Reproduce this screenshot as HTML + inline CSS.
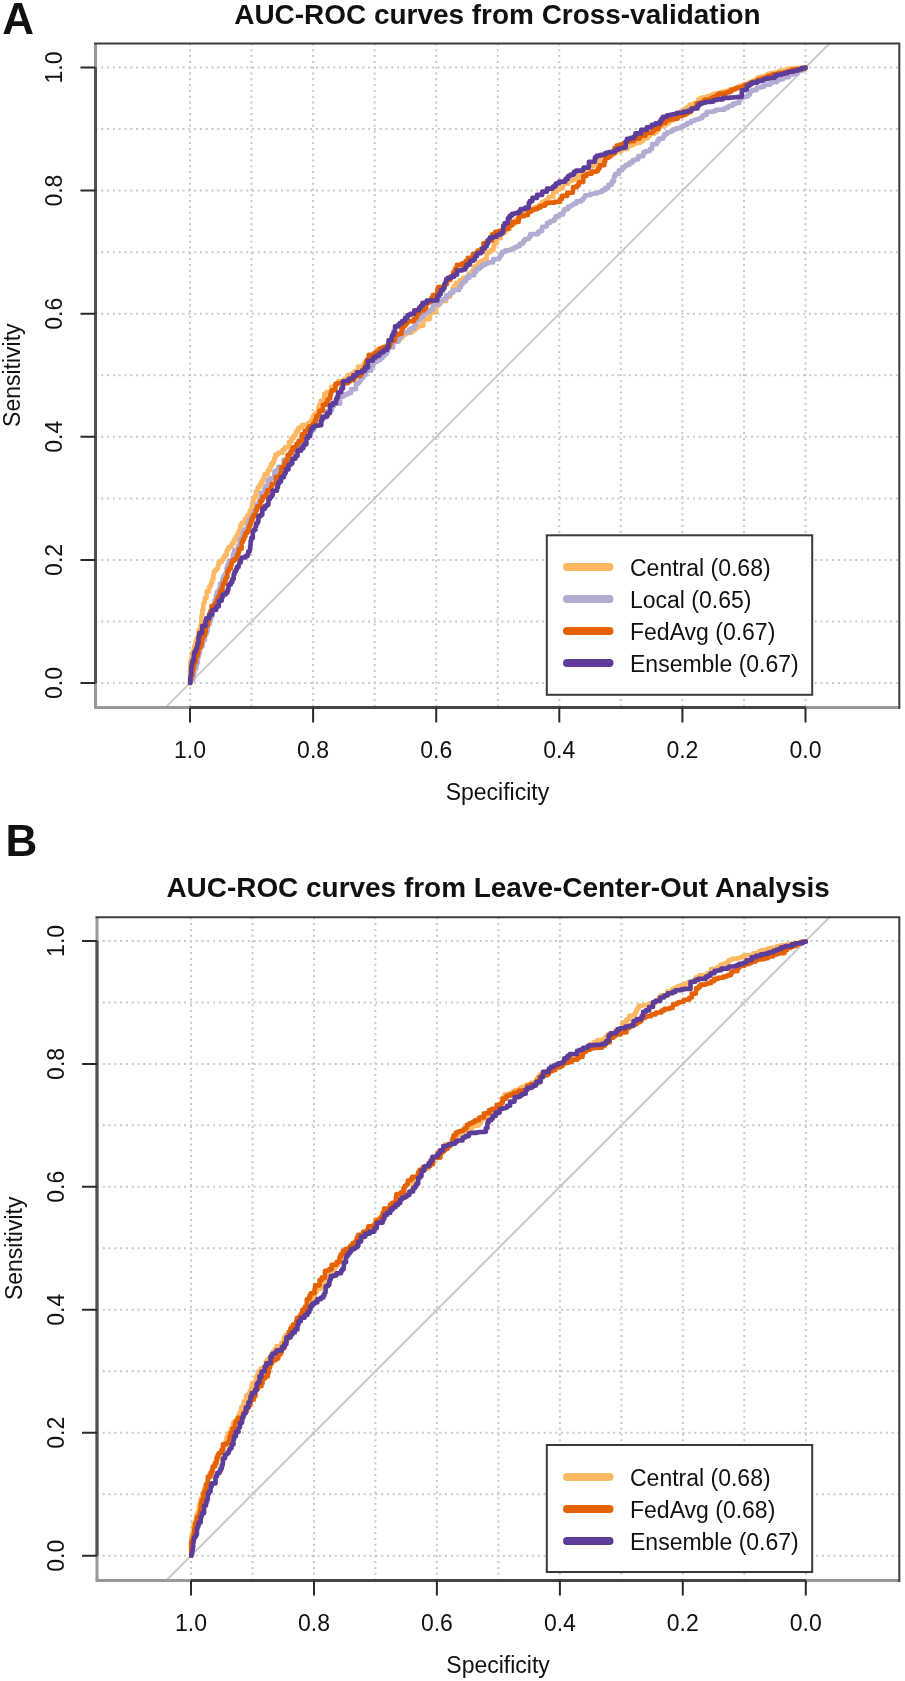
<!DOCTYPE html>
<html><head><meta charset="utf-8"><style>
html,body{margin:0;padding:0;background:#fff;width:905px;height:1681px;overflow:hidden}
svg{display:block;will-change:transform}
text{font-family:"Liberation Sans", sans-serif;fill:#111}
</style></head><body>
<svg width="905" height="1681" viewBox="0 0 905 1681">
<rect width="905" height="1681" fill="#fff"/>
<clipPath id="clipA"><rect x="95.5" y="43.5" width="803.8" height="663.9"/></clipPath>
<path d="M805.5 43.5V707.4M95.5 683.0H899.3M744.0 43.5V707.4M95.5 621.5H899.3M682.4 43.5V707.4M95.5 559.9H899.3M620.8 43.5V707.4M95.5 498.4H899.3M559.3 43.5V707.4M95.5 436.8H899.3M497.8 43.5V707.4M95.5 375.2H899.3M436.2 43.5V707.4M95.5 313.7H899.3M374.7 43.5V707.4M95.5 252.2H899.3M313.1 43.5V707.4M95.5 190.6H899.3M251.5 43.5V707.4M95.5 129.0H899.3M190.0 43.5V707.4M95.5 67.5H899.3" stroke="#c9c9c9" stroke-width="2" stroke-dasharray="2 3.8" fill="none"/>
<line x1="165.6" y1="707.4" x2="829.5" y2="43.5" stroke="#c8c8c8" stroke-width="1.9"/>
<path d="M190.0 683.0 L190.0 681.6 L190.0 681.6 L190.1 681.6 L190.1 677.9 L190.1 677.9 L190.1 674.1 L190.1 671.8 L190.2 671.8 L190.2 668.8 L190.2 668.8 L190.3 668.8 L190.3 665.7 L190.3 665.7 L190.3 663.0 L190.3 661.1 L190.8 661.1 L191.6 661.1 L191.6 657.6 L192.1 657.6 L192.1 655.7 L192.1 653.2 L192.7 653.2 L192.7 651.9 L193.1 651.9 L193.6 651.9 L193.6 649.8 L193.6 649.7 L193.6 649.7 L194.1 649.7 L194.1 648.0 L194.1 646.5 L194.6 646.5 L195.2 646.5 L195.2 644.5 L195.6 644.5 L195.6 643.0 L195.6 641.0 L196.2 641.0 L196.9 641.0 L196.9 638.6 L197.6 638.6 L197.6 636.4 L198.6 636.4 L198.6 632.5 L198.6 630.3 L199.2 630.3 L200.2 630.3 L200.2 626.4 L200.6 626.4 L200.6 624.8 L201.0 624.8 L201.0 623.2 L201.3 623.2 L201.3 620.7 L201.5 620.7 L201.5 618.7 L201.5 615.5 L201.9 615.5 L202.3 615.5 L202.3 612.2 L202.3 609.9 L202.6 609.9 L203.3 609.9 L203.3 606.3 L203.3 604.1 L203.8 604.1 L203.8 602.7 L204.1 602.7 L204.7 602.7 L204.7 599.5 L205.0 599.5 L205.0 598.0 L206.6 598.0 L206.6 594.6 L206.6 591.4 L208.0 591.4 L209.0 591.4 L209.0 589.3 L209.0 587.0 L209.8 587.0 L210.3 587.0 L210.3 585.3 L211.2 585.3 L211.2 582.5 L212.2 582.5 L212.2 579.5 L213.4 579.5 L213.4 575.9 L213.4 574.4 L213.9 574.4 L213.9 571.5 L215.4 571.5 L215.4 569.5 L216.4 569.5 L217.1 569.5 L217.1 568.2 L218.0 568.2 L218.0 566.6 L218.0 565.3 L218.7 565.3 L218.7 562.0 L220.5 562.0 L221.9 562.0 L221.9 559.5 L223.5 559.5 L223.5 557.1 L224.7 557.1 L224.7 555.3 L226.7 555.3 L226.7 552.3 L226.7 550.8 L227.7 550.8 L227.7 549.3 L228.6 549.3 L228.6 547.0 L230.2 547.0 L231.8 547.0 L231.8 544.6 L231.8 544.6 L231.8 544.6 L231.8 543.3 L232.4 543.3 L233.9 543.3 L233.9 540.3 L233.9 539.6 L234.3 539.6 L235.7 539.6 L235.7 536.8 L237.4 536.8 L237.4 533.4 L238.8 533.4 L238.8 530.5 L240.3 530.5 L240.3 527.5 L240.3 525.2 L241.5 525.2 L241.7 525.2 L241.7 524.7 L241.7 522.9 L242.9 522.9 L244.9 522.9 L244.9 520.2 L244.9 518.7 L246.0 518.7 L247.1 518.7 L247.1 517.0 L247.1 515.6 L248.1 515.6 L248.1 514.8 L248.7 514.8 L249.7 514.8 L249.7 512.1 L249.7 510.6 L250.2 510.6 L251.6 510.6 L251.6 506.9 L252.2 506.9 L252.2 505.3 L252.2 503.5 L252.9 503.5 L252.9 499.9 L254.2 499.9 L254.2 496.8 L255.2 496.8 L256.1 496.8 L256.1 494.3 L256.1 491.4 L257.0 491.4 L257.8 491.4 L257.8 489.1 L257.8 487.3 L258.4 487.3 L258.4 487.0 L258.5 487.0 L260.0 487.0 L260.0 484.3 L261.6 484.3 L261.6 481.4 L263.2 481.4 L263.2 478.5 L263.3 478.5 L263.3 478.3 L264.4 478.3 L264.4 476.4 L264.4 474.4 L265.5 474.4 L267.7 474.4 L267.7 470.6 L269.7 470.6 L269.7 467.0 L271.1 467.0 L271.1 464.6 L271.1 463.9 L271.5 463.9 L272.9 463.9 L272.9 461.9 L274.2 461.9 L274.2 460.1 L274.2 458.4 L275.4 458.4 L275.4 454.5 L278.2 454.5 L278.2 452.9 L279.3 452.9 L282.4 452.9 L282.4 450.0 L284.8 450.0 L284.8 447.9 L284.8 447.3 L285.4 447.3 L289.0 447.3 L289.0 444.0 L289.0 441.8 L291.4 441.8 L291.4 438.3 L293.6 438.3 L293.6 435.7 L295.2 435.7 L295.2 434.5 L296.0 434.5 L296.0 431.4 L297.9 431.4 L297.9 428.6 L299.7 428.6 L299.7 428.6 L299.7 428.6 L299.7 427.2 L302.0 427.2 L302.0 425.0 L305.4 425.0 L307.9 425.0 L307.9 423.4 L308.6 423.4 L308.6 423.0 L310.7 423.0 L310.7 420.6 L312.7 420.6 L312.7 418.3 L312.7 416.6 L314.2 416.6 L314.2 414.2 L316.3 414.2 L316.3 412.9 L316.8 412.9 L317.5 412.9 L317.5 411.2 L318.4 411.2 L318.4 409.2 L318.4 407.5 L319.1 407.5 L319.1 405.2 L320.0 405.2 L320.6 405.2 L320.6 403.7 L320.6 400.9 L321.8 400.9 L324.3 400.9 L324.3 396.9 L324.3 393.7 L326.3 393.7 L326.3 392.2 L327.3 392.2 L327.3 392.1 L327.3 392.1 L331.2 392.1 L331.2 388.8 L331.2 386.8 L333.4 386.8 L335.5 386.8 L335.5 385.0 L336.2 385.0 L336.2 384.4 L336.2 383.0 L338.2 383.0 L338.2 381.0 L341.0 381.0 L344.2 381.0 L344.2 378.7 L347.2 378.7 L347.2 376.6 L347.2 375.3 L349.0 375.3 L351.6 375.3 L351.6 373.5 L354.7 373.5 L354.7 371.2 L358.1 371.2 L358.1 368.8 L358.1 366.6 L361.2 366.6 L364.2 366.6 L364.2 364.4 L364.2 362.8 L366.5 362.8 L368.2 362.8 L368.2 360.9 L371.7 360.9 L371.7 357.1 L373.1 357.1 L373.1 355.5 L376.3 355.5 L376.3 352.1 L376.3 349.6 L378.5 349.6 L382.1 349.6 L382.1 347.9 L384.5 347.9 L384.5 346.8 L387.5 346.8 L387.5 345.5 L387.5 344.3 L390.1 344.3 L393.0 344.3 L393.0 342.9 L393.0 340.8 L396.0 340.8 L398.3 340.8 L398.3 339.2 L400.6 339.2 L400.6 337.5 L402.3 337.5 L402.3 336.3 L402.3 335.2 L404.5 335.2 L404.5 334.3 L406.4 334.3 L406.4 332.8 L409.3 332.8 L411.3 332.8 L411.3 331.8 L412.7 331.8 L412.7 331.2 L412.7 330.4 L414.2 330.4 L414.2 329.7 L415.6 329.7 L415.6 327.2 L418.5 327.2 L418.5 325.6 L420.5 325.6 L423.3 325.6 L423.3 323.2 L423.3 323.0 L423.6 323.0 L423.6 319.1 L427.0 319.1 L429.9 319.1 L429.9 315.7 L429.9 313.1 L432.2 313.1 L432.2 312.4 L432.8 312.4 L436.1 312.4 L436.1 308.6 L436.1 306.0 L438.3 306.0 L438.3 303.2 L440.8 303.2 L440.8 301.0 L443.9 301.0 L446.1 301.0 L446.1 299.4 L446.1 296.7 L449.9 296.7 L450.1 296.7 L450.1 296.5 L450.1 294.8 L451.0 294.8 L451.0 293.3 L451.8 293.3 L451.8 292.1 L452.5 292.1 L452.5 288.6 L454.3 288.6 L454.3 285.5 L456.0 285.5 L456.0 282.9 L459.6 282.9 L459.6 280.3 L463.2 280.3 L463.2 277.8 L466.6 277.8 L467.9 277.8 L467.9 276.3 L467.9 275.0 L468.9 275.0 L468.9 273.6 L470.0 273.6 L472.0 273.6 L472.0 271.2 L473.7 271.2 L473.7 269.2 L473.7 266.6 L476.7 266.6 L476.7 265.2 L478.4 265.2 L478.4 262.3 L481.8 262.3 L481.8 260.6 L483.8 260.6 L484.8 260.6 L484.8 259.1 L486.7 259.1 L486.7 256.3 L486.7 252.4 L489.3 252.4 L489.3 252.0 L489.5 252.0 L490.8 252.0 L490.8 250.0 L493.5 250.0 L493.5 246.1 L494.3 246.1 L494.3 244.8 L494.3 243.3 L495.3 243.3 L496.9 243.3 L496.9 240.9 L496.9 238.2 L498.7 238.2 L500.8 238.2 L500.8 235.0 L501.0 235.0 L501.0 234.7 L501.0 232.8 L502.9 232.8 L505.2 232.8 L505.2 230.6 L505.2 229.0 L506.8 229.0 L509.7 229.0 L509.7 225.9 L511.7 225.9 L511.7 223.8 L515.3 223.8 L515.3 220.0 L517.3 220.0 L517.3 217.8 L520.0 217.8 L520.0 215.0 L520.0 215.0 L520.0 215.0 L522.6 215.0 L522.6 213.6 L526.0 213.6 L526.0 211.8 L529.1 211.8 L529.1 210.2 L529.1 208.7 L531.9 208.7 L533.3 208.7 L533.3 207.9 L535.0 207.9 L535.0 207.0 L538.8 207.0 L538.8 205.1 L541.9 205.1 L541.9 203.5 L541.9 202.0 L544.8 202.0 L544.8 200.6 L547.5 200.6 L547.5 200.2 L548.4 200.2 L548.4 196.9 L550.6 196.9 L553.2 196.9 L553.2 193.1 L553.2 191.6 L554.2 191.6 L557.1 191.6 L557.1 189.7 L558.8 189.7 L558.8 188.5 L562.8 188.5 L562.8 185.9 L562.8 185.9 L562.8 185.9 L562.8 183.6 L566.7 183.6 L568.4 183.6 L568.4 182.7 L568.4 180.5 L572.2 180.5 L572.9 180.5 L572.9 180.1 L572.9 179.4 L576.2 179.4 L576.2 179.1 L577.9 179.1 L577.9 176.1 L580.4 176.1 L580.4 172.9 L583.1 172.9 L585.1 172.9 L585.1 170.5 L585.1 169.4 L586.7 169.4 L588.7 169.4 L588.7 168.1 L588.7 166.4 L591.1 166.4 L593.7 166.4 L593.7 164.7 L595.2 164.7 L595.2 163.7 L599.2 163.7 L599.2 161.1 L599.2 159.0 L602.4 159.0 L604.0 159.0 L604.0 158.1 L606.6 158.1 L606.6 156.6 L606.6 155.2 L608.9 155.2 L612.4 155.2 L612.4 153.2 L615.6 153.2 L615.6 152.1 L615.6 151.4 L617.4 151.4 L621.2 151.4 L621.2 150.0 L621.2 148.9 L624.2 148.9 L627.3 148.9 L627.3 147.8 L627.3 147.5 L628.2 147.5 L628.2 145.6 L632.0 145.6 L632.0 144.9 L633.3 144.9 L633.3 143.6 L636.1 143.6 L636.1 142.8 L637.7 142.8 L640.5 142.8 L640.5 141.3 L642.6 141.3 L642.6 140.3 L642.6 139.0 L644.7 139.0 L644.7 138.1 L646.3 138.1 L647.9 138.1 L647.9 137.1 L647.9 136.2 L649.5 136.2 L649.8 136.2 L649.8 136.0 L649.8 133.7 L652.5 133.7 L654.3 133.7 L654.3 132.2 L656.7 132.2 L656.7 130.3 L658.4 130.3 L658.4 128.8 L658.4 126.6 L661.5 126.6 L661.5 125.4 L663.1 125.4 L665.8 125.4 L665.8 123.5 L668.4 123.5 L668.4 121.6 L670.4 121.6 L670.4 120.5 L672.8 120.5 L672.8 119.1 L675.3 119.1 L675.3 117.7 L675.3 115.9 L678.5 115.9 L678.5 114.8 L679.8 114.8 L681.4 114.8 L681.4 113.5 L681.4 110.6 L684.9 110.6 L684.9 108.7 L687.1 108.7 L687.1 107.1 L689.6 107.1 L689.6 104.5 L693.5 104.5 L693.6 104.5 L693.6 104.4 L693.6 103.4 L695.0 103.4 L698.1 103.4 L698.1 101.1 L698.1 99.5 L700.3 99.5 L700.3 98.1 L702.2 98.1 L702.2 97.2 L704.7 97.2 L707.2 97.2 L707.2 96.2 L711.0 96.2 L711.0 94.8 L713.6 94.8 L713.6 93.8 L713.6 93.8 L713.7 93.8 L717.2 93.8 L717.2 93.1 L720.7 93.1 L720.7 92.4 L722.3 92.4 L722.3 92.1 L722.3 91.6 L724.8 91.6 L724.8 91.2 L726.5 91.2 L726.5 90.9 L728.1 90.9 L728.1 90.2 L729.9 90.2 L729.9 89.3 L732.5 89.3 L736.0 89.3 L736.0 87.9 L739.3 87.9 L739.3 86.7 L739.3 86.6 L739.6 86.6 L739.6 85.8 L741.4 85.8 L742.8 85.8 L742.8 85.2 L744.1 85.2 L744.1 84.6 L747.8 84.6 L747.8 83.0 L749.7 83.0 L749.7 82.1 L751.2 82.1 L751.2 81.5 L752.5 81.5 L752.5 80.9 L754.5 80.9 L754.5 80.0 L756.1 80.0 L756.1 79.4 L757.5 79.4 L757.5 78.8 L757.5 77.5 L760.6 77.5 L760.6 76.6 L762.6 76.6 L766.4 76.6 L766.4 75.4 L766.4 75.0 L767.9 75.0 L767.9 73.8 L771.6 73.8 L771.6 72.7 L775.5 72.7 L775.5 72.2 L777.0 72.2 L778.7 72.2 L778.7 71.8 L778.7 71.4 L780.2 71.4 L780.2 70.6 L783.3 70.6 L786.5 70.6 L786.5 69.8 L786.5 69.1 L789.4 69.1 L789.4 68.6 L791.3 68.6 L791.3 68.5 L792.8 68.5 L795.8 68.5 L795.8 68.3 L795.8 68.0 L798.6 68.0 L798.6 67.8 L802.3 67.8 L804.6 67.8 L804.6 67.6 L805.5 67.6 L805.5 67.5" stroke="#fdb863" stroke-width="4.6" fill="none" stroke-linejoin="round" stroke-linecap="round" clip-path="url(#clipA)"/>
<path d="M190.0 683.0 L190.0 679.9 L191.7 679.9 L193.2 679.9 L193.2 676.9 L193.6 676.9 L193.6 676.2 L193.6 673.0 L194.4 673.0 L194.4 669.0 L195.5 669.0 L196.2 669.0 L196.2 666.0 L196.7 666.0 L196.7 664.3 L196.7 663.0 L197.0 663.0 L197.8 663.0 L197.8 659.5 L197.8 657.8 L198.2 657.8 L198.5 657.8 L198.5 656.2 L198.9 656.2 L198.9 654.6 L199.5 654.6 L199.5 652.0 L200.0 652.0 L200.0 649.7 L200.0 646.3 L201.3 646.3 L202.7 646.3 L202.7 642.6 L202.7 640.0 L203.6 640.0 L204.9 640.0 L204.9 636.8 L205.0 636.8 L205.0 636.4 L205.0 634.5 L205.7 634.5 L206.4 634.5 L206.4 632.8 L207.1 632.8 L207.1 630.9 L207.8 630.9 L207.8 628.9 L207.8 624.9 L209.3 624.9 L209.3 623.2 L210.0 623.2 L210.0 621.6 L210.4 621.6 L210.4 619.5 L210.9 619.5 L210.9 617.5 L211.4 617.5 L211.8 617.5 L211.8 615.7 L212.7 615.7 L212.7 611.9 L212.7 608.5 L213.5 608.5 L213.5 605.8 L214.2 605.8 L214.2 604.4 L214.5 604.4 L214.5 600.4 L215.4 600.4 L216.1 600.4 L216.1 597.6 L216.1 594.8 L216.8 594.8 L216.9 594.8 L216.9 594.3 L216.9 592.0 L217.8 592.0 L218.6 592.0 L218.6 590.0 L219.6 590.0 L219.6 587.7 L219.6 586.2 L220.1 586.2 L220.1 583.6 L221.2 583.6 L222.3 583.6 L222.3 580.8 L222.3 579.4 L222.9 579.4 L222.9 577.5 L223.7 577.5 L223.7 575.6 L224.4 575.6 L225.3 575.6 L225.3 573.3 L226.6 573.3 L226.6 570.0 L226.6 567.8 L227.5 567.8 L227.5 565.0 L228.6 565.0 L228.6 564.5 L228.8 564.5 L228.8 560.6 L230.9 560.6 L232.8 560.6 L232.8 557.1 L232.8 554.2 L234.3 554.2 L234.3 550.4 L236.4 550.4 L236.4 549.6 L236.8 549.6 L237.8 549.6 L237.8 547.1 L238.5 547.1 L238.5 545.4 L239.7 545.4 L239.7 542.3 L239.7 538.9 L241.0 538.9 L242.5 538.9 L242.5 535.1 L242.5 534.7 L242.7 534.7 L242.7 532.2 L244.0 532.2 L244.0 529.5 L245.3 529.5 L247.2 529.5 L247.2 525.8 L247.2 523.9 L248.2 523.9 L248.2 522.4 L248.9 522.4 L248.9 519.8 L250.2 519.8 L250.2 517.8 L251.2 517.8 L252.6 517.8 L252.6 514.6 L253.6 514.6 L253.6 512.6 L253.6 510.9 L254.4 510.9 L255.1 510.9 L255.1 509.5 L256.4 509.5 L256.4 506.7 L256.4 504.6 L257.4 504.6 L259.0 504.6 L259.0 501.2 L259.6 501.2 L259.6 499.9 L261.0 499.9 L261.0 496.6 L261.0 492.7 L262.6 492.7 L264.3 492.7 L264.3 488.9 L265.3 488.9 L265.3 486.5 L265.5 486.5 L265.5 486.0 L267.9 486.0 L267.9 483.0 L267.9 479.9 L270.2 479.9 L270.2 478.3 L271.5 478.3 L274.4 478.3 L274.4 474.6 L274.4 471.3 L277.0 471.3 L277.0 469.8 L278.3 469.8 L278.3 466.7 L280.7 466.7 L283.7 466.7 L283.7 462.9 L283.7 459.6 L286.3 459.6 L288.9 459.6 L288.9 456.4 L288.9 455.0 L290.0 455.0 L290.0 452.0 L292.4 452.0 L293.7 452.0 L293.7 450.3 L296.9 450.3 L296.9 446.3 L298.7 446.3 L298.7 444.1 L301.8 444.1 L301.8 440.2 L301.8 436.5 L304.8 436.5 L306.2 436.5 L306.2 434.7 L308.5 434.7 L308.5 431.8 L308.5 430.6 L309.6 430.6 L309.6 430.0 L310.0 430.0 L314.0 430.0 L314.0 426.0 L316.1 426.0 L316.1 423.9 L320.0 423.9 L320.0 420.0 L322.2 420.0 L322.2 417.8 L325.6 417.8 L325.6 414.4 L325.6 411.2 L328.8 411.2 L330.0 411.2 L330.0 410.0 L332.1 410.0 L332.1 408.0 L332.1 406.3 L333.9 406.3 L333.9 403.8 L336.4 403.8 L340.0 403.8 L340.0 400.3 L340.0 396.6 L343.8 396.6 L343.8 395.4 L345.0 395.4 L345.0 394.4 L346.3 394.4 L348.2 394.4 L348.2 392.9 L351.1 392.9 L351.1 390.5 L351.1 389.3 L352.6 389.3 L355.9 389.3 L355.9 386.7 L355.9 383.6 L358.5 383.6 L358.5 382.2 L359.7 382.2 L359.7 380.6 L361.0 380.6 L361.0 377.6 L363.5 377.6 L363.5 374.7 L366.0 374.7 L366.0 370.8 L369.2 370.8 L371.3 370.8 L371.3 368.4 L371.3 366.0 L373.4 366.0 L373.4 362.0 L376.9 362.0 L376.9 360.2 L378.5 360.2 L380.2 360.2 L380.2 358.3 L382.4 358.3 L382.4 356.0 L384.3 356.0 L384.3 354.0 L386.6 354.0 L386.6 351.4 L388.1 351.4 L388.1 349.8 L388.1 347.4 L390.3 347.4 L393.2 347.4 L393.2 344.3 L393.2 341.6 L395.7 341.6 L398.7 341.6 L398.7 339.0 L398.7 337.6 L400.2 337.6 L400.2 335.8 L402.2 335.8 L402.2 332.3 L406.1 332.3 L409.0 332.3 L409.0 329.7 L410.5 329.7 L410.5 328.4 L414.1 328.4 L414.1 325.2 L416.1 325.2 L416.1 323.5 L416.1 320.4 L419.6 320.4 L419.6 317.3 L422.7 317.3 L422.7 314.4 L425.6 314.4 L425.6 311.5 L428.5 311.5 L430.2 311.5 L430.2 309.8 L432.8 309.8 L432.8 307.5 L432.8 304.4 L436.4 304.4 L439.4 304.4 L439.4 301.7 L440.8 301.7 L440.8 300.5 L443.1 300.5 L443.1 298.8 L446.3 298.8 L446.3 296.6 L446.3 295.0 L448.5 295.0 L450.1 295.0 L450.1 293.9 L450.1 292.8 L451.7 292.8 L453.2 292.8 L453.2 291.6 L453.2 290.0 L455.5 290.0 L459.2 290.0 L459.2 287.3 L459.4 287.3 L459.4 287.2 L460.9 287.2 L460.9 285.8 L460.9 284.4 L462.3 284.4 L462.3 282.5 L464.4 282.5 L464.4 280.9 L466.1 280.9 L466.1 277.9 L469.3 277.9 L469.3 277.8 L469.4 277.8 L469.4 275.2 L472.3 275.2 L474.3 275.2 L474.3 273.5 L474.3 271.7 L476.2 271.7 L476.2 269.1 L479.2 269.1 L479.2 267.4 L481.1 267.4 L481.1 266.3 L482.4 266.3 L482.4 264.9 L485.1 264.9 L485.1 263.7 L487.5 263.7 L487.5 262.4 L490.2 262.4 L493.1 262.4 L493.1 260.9 L493.1 259.1 L496.7 259.1 L499.0 259.1 L499.0 257.2 L500.4 257.2 L500.4 256.1 L500.4 254.9 L501.8 254.9 L501.8 252.0 L505.2 252.0 L505.2 252.0 L505.3 252.0 L505.3 250.3 L508.7 250.3 L510.8 250.3 L510.8 249.2 L512.3 249.2 L512.3 248.5 L514.5 248.5 L514.5 247.4 L516.8 247.4 L516.8 246.2 L519.7 246.2 L519.7 243.8 L523.1 243.8 L523.1 241.0 L524.8 241.0 L524.8 239.6 L524.8 239.0 L525.5 239.0 L528.7 239.0 L528.7 237.2 L530.3 237.2 L530.3 236.3 L530.3 234.1 L534.3 234.1 L538.2 234.1 L538.2 231.9 L538.4 231.9 L538.4 231.8 L539.7 231.8 L539.7 230.9 L542.1 230.9 L542.1 229.3 L542.1 226.7 L546.1 226.7 L546.1 226.1 L547.0 226.1 L547.0 222.8 L550.3 222.8 L550.3 221.0 L552.1 221.0 L554.2 221.0 L554.2 218.9 L555.6 218.9 L555.6 217.5 L555.6 216.2 L557.1 216.2 L559.3 216.2 L559.3 214.4 L563.2 214.4 L563.2 211.2 L564.3 211.2 L564.3 210.3 L564.3 209.1 L566.4 209.1 L568.2 209.1 L568.2 208.0 L568.2 206.5 L570.9 206.5 L570.9 205.6 L572.4 205.6 L572.4 204.5 L574.3 204.5 L574.3 203.5 L576.5 203.5 L576.5 201.4 L579.0 201.4 L581.1 201.4 L581.1 199.7 L583.3 199.7 L583.3 197.8 L584.7 197.8 L584.7 196.6 L585.1 196.6 L585.1 196.3 L585.1 195.3 L588.5 195.3 L590.1 195.3 L590.1 194.8 L590.1 194.0 L592.9 194.0 L592.9 193.5 L594.6 193.5 L596.9 193.5 L596.9 192.8 L598.6 192.8 L598.6 192.3 L598.6 192.0 L599.5 192.0 L601.9 192.0 L601.9 190.3 L605.0 190.3 L605.0 188.0 L608.3 188.0 L608.3 185.7 L608.3 184.8 L609.5 184.8 L611.8 184.8 L611.8 181.4 L614.0 181.4 L614.0 178.2 L614.0 176.2 L615.3 176.2 L615.3 173.9 L617.2 173.9 L618.9 173.9 L618.9 171.8 L618.9 170.3 L620.3 170.3 L622.3 170.3 L622.3 167.9 L622.3 167.6 L622.5 167.6 L624.3 167.6 L624.3 166.3 L626.2 166.3 L626.2 164.9 L629.5 164.9 L629.5 162.6 L632.5 162.6 L632.5 160.4 L634.4 160.4 L634.4 159.5 L638.3 159.5 L638.3 157.5 L638.3 156.1 L641.1 156.1 L643.2 156.1 L643.2 154.4 L643.2 152.4 L645.6 152.4 L645.6 151.1 L647.2 151.1 L649.8 151.1 L649.8 149.0 L652.1 149.0 L652.1 147.1 L652.1 144.1 L655.8 144.1 L657.0 144.1 L657.0 143.2 L657.0 141.6 L658.6 141.6 L658.6 138.6 L661.5 138.6 L663.2 138.6 L663.2 136.9 L664.1 136.9 L664.1 136.0 L664.1 134.4 L666.8 134.4 L666.8 132.2 L670.4 132.2 L670.4 131.7 L671.3 131.7 L671.3 130.7 L673.2 130.7 L673.2 129.2 L676.3 129.2 L676.3 128.3 L678.2 128.3 L679.9 128.3 L679.9 127.4 L681.5 127.4 L681.5 126.4 L683.8 126.4 L683.8 125.0 L687.1 125.0 L687.1 123.0 L690.9 123.0 L690.9 121.5 L690.9 121.0 L692.3 121.0 L694.3 121.0 L694.3 120.2 L694.3 119.7 L695.6 119.7 L696.9 119.7 L696.9 119.2 L699.4 119.2 L699.4 118.2 L702.2 118.2 L702.2 116.0 L703.5 116.0 L703.5 115.0 L706.6 115.0 L706.6 112.5 L706.6 111.8 L710.0 111.8 L712.9 111.8 L712.9 111.2 L715.9 111.2 L715.9 110.6 L715.9 109.8 L719.9 109.8 L719.9 109.6 L720.9 109.6 L724.6 109.6 L724.6 108.0 L728.0 108.0 L728.0 106.5 L729.6 106.5 L729.6 105.8 L732.8 105.8 L732.8 104.4 L732.8 103.9 L733.9 103.9 L735.4 103.9 L735.4 103.0 L739.4 103.0 L739.4 100.4 L739.4 99.2 L741.3 99.2 L741.3 97.7 L743.8 97.7 L743.8 96.7 L745.3 96.7 L747.9 96.7 L747.9 94.6 L750.0 94.6 L750.0 92.9 L750.0 90.9 L752.5 90.9 L752.5 90.1 L754.0 90.1 L756.7 90.1 L756.7 88.8 L756.7 87.5 L759.3 87.5 L761.2 87.5 L761.2 86.6 L764.3 86.6 L764.3 85.6 L764.3 84.6 L767.3 84.6 L770.4 84.6 L770.4 83.5 L770.4 82.5 L773.5 82.5 L773.5 82.3 L774.1 82.3 L777.0 82.3 L777.0 81.1 L777.0 80.0 L779.5 80.0 L779.5 79.3 L781.0 79.3 L783.2 79.3 L783.2 78.4 L783.2 78.0 L784.1 78.0 L784.1 77.3 L785.8 77.3 L788.9 77.3 L788.9 75.9 L788.9 74.8 L791.6 74.8 L792.9 74.8 L792.9 74.3 L794.2 74.3 L794.2 73.7 L797.3 73.7 L797.3 72.2 L797.3 70.5 L800.5 70.5 L802.8 70.5 L802.8 69.4 L805.0 69.4 L805.0 67.9 L805.5 67.9 L805.5 67.5" stroke="#b2abd2" stroke-width="4.6" fill="none" stroke-linejoin="round" stroke-linecap="round" clip-path="url(#clipA)"/>
<path d="M190.0 683.0 L190.5 683.0 L190.5 680.9 L190.5 678.3 L191.2 678.3 L191.2 675.0 L192.0 675.0 L192.3 675.0 L192.3 673.7 L192.3 670.2 L193.2 670.2 L193.2 667.0 L194.0 667.0 L194.0 663.9 L194.7 663.9 L194.7 662.1 L195.1 662.1 L195.9 662.1 L195.9 658.8 L195.9 656.0 L196.5 656.0 L197.7 656.0 L197.7 652.9 L198.4 652.9 L198.4 651.1 L198.4 647.6 L199.7 647.6 L200.8 647.6 L200.8 644.8 L201.5 644.8 L201.5 643.0 L201.9 643.0 L201.9 641.4 L201.9 638.8 L202.7 638.8 L202.7 636.7 L203.3 636.7 L203.3 636.0 L203.5 636.0 L204.7 636.0 L204.7 632.6 L205.7 632.6 L205.7 629.6 L205.7 626.0 L207.0 626.0 L207.4 626.0 L207.4 624.6 L207.9 624.6 L207.9 622.3 L207.9 621.0 L208.3 621.0 L208.7 621.0 L208.7 619.2 L209.0 619.2 L209.0 618.0 L209.0 614.5 L210.1 614.5 L210.1 611.3 L211.1 611.3 L211.5 611.3 L211.5 610.0 L211.5 606.1 L213.7 606.1 L214.4 606.1 L214.4 604.8 L215.2 604.8 L215.2 603.3 L216.5 603.3 L216.5 600.6 L217.7 600.6 L217.7 598.1 L217.7 597.5 L218.0 597.5 L218.9 597.5 L218.9 595.8 L220.0 595.8 L220.0 593.6 L220.0 591.9 L220.8 591.9 L220.8 590.0 L221.8 590.0 L222.5 590.0 L222.5 587.8 L222.5 585.8 L223.2 585.8 L223.2 583.4 L224.0 583.4 L225.1 583.4 L225.1 579.9 L225.1 579.4 L225.3 579.4 L226.1 579.4 L226.1 577.6 L227.3 577.6 L227.3 574.7 L227.3 571.5 L228.8 571.5 L228.8 568.6 L230.0 568.6 L230.8 568.6 L230.8 566.8 L230.8 564.8 L231.7 564.8 L231.7 564.5 L231.8 564.5 L231.8 560.7 L234.3 560.7 L234.3 559.1 L235.3 559.1 L237.1 559.1 L237.1 556.5 L237.1 554.6 L238.3 554.6 L238.3 552.1 L239.2 552.1 L239.2 548.8 L240.3 548.8 L241.6 548.8 L241.6 545.0 L241.6 544.6 L241.7 544.6 L241.7 542.1 L242.9 542.1 L242.9 539.2 L244.2 539.2 L244.2 536.6 L245.5 536.6 L245.5 533.1 L247.1 533.1 L247.1 531.4 L247.9 531.4 L248.6 531.4 L248.6 530.0 L248.7 530.0 L248.7 529.7 L248.7 528.3 L249.3 528.3 L249.3 526.0 L250.2 526.0 L250.2 523.4 L251.2 523.4 L251.2 520.0 L252.6 520.0 L252.6 517.0 L253.8 517.0 L253.8 514.8 L254.7 514.8 L255.8 514.8 L255.8 512.7 L255.8 510.1 L257.2 510.1 L257.2 506.4 L259.2 506.4 L260.5 506.4 L260.5 503.9 L260.5 501.1 L262.0 501.1 L262.0 499.9 L262.6 499.9 L262.6 496.6 L264.8 496.6 L266.3 496.6 L266.3 494.3 L266.3 493.0 L267.2 493.0 L267.2 490.4 L268.9 490.4 L270.3 490.4 L270.3 488.3 L271.4 488.3 L271.4 486.6 L271.4 486.0 L271.8 486.0 L271.8 483.7 L273.4 483.7 L275.9 483.7 L275.9 480.0 L275.9 476.7 L278.2 476.7 L279.3 476.7 L279.3 475.0 L280.3 475.0 L280.3 473.0 L281.2 473.0 L281.2 471.2 L281.2 467.3 L283.1 467.3 L284.6 467.3 L284.6 464.3 L284.6 462.4 L285.6 462.4 L285.6 460.7 L286.4 460.7 L287.6 460.7 L287.6 458.4 L287.6 454.7 L289.4 454.7 L290.3 454.7 L290.3 452.9 L291.4 452.9 L291.4 450.7 L292.7 450.7 L292.7 448.1 L292.7 447.3 L293.1 447.3 L296.5 447.3 L296.5 443.9 L298.6 443.9 L298.6 441.8 L298.6 440.7 L299.7 440.7 L301.8 440.7 L301.8 438.0 L301.8 434.3 L304.8 434.3 L304.8 430.9 L307.5 430.9 L307.5 430.8 L307.5 430.8 L307.5 428.6 L309.2 428.6 L309.2 426.4 L311.0 426.4 L313.0 426.4 L313.0 423.9 L314.8 423.9 L314.8 421.5 L314.8 420.2 L315.9 420.2 L316.3 420.2 L316.3 419.7 L316.3 416.0 L318.5 416.0 L318.5 414.6 L319.4 414.6 L319.4 410.7 L321.7 410.7 L322.9 410.7 L322.9 408.7 L322.9 404.8 L325.0 404.8 L326.2 404.8 L326.2 402.5 L327.6 402.5 L327.6 399.9 L328.3 399.9 L328.3 398.6 L330.2 398.6 L330.2 395.1 L330.9 395.1 L330.9 393.8 L330.9 392.1 L331.8 392.1 L331.8 390.3 L333.2 390.3 L335.4 390.3 L335.4 387.3 L335.4 384.1 L337.8 384.1 L337.8 383.3 L338.4 383.3 L338.4 383.2 L342.2 383.2 L346.1 383.2 L346.1 383.1 L348.0 383.1 L348.0 383.0 L348.0 381.7 L349.7 381.7 L349.7 380.2 L351.9 380.2 L353.7 380.2 L353.7 378.8 L353.7 377.9 L355.1 377.9 L355.1 376.0 L357.6 376.0 L360.6 376.0 L360.6 373.9 L361.2 373.9 L361.2 373.4 L362.1 373.4 L362.1 371.6 L362.1 370.0 L362.9 370.0 L364.2 370.0 L364.2 367.4 L365.5 367.4 L365.5 364.9 L366.4 364.9 L366.4 363.1 L366.4 360.3 L367.8 360.3 L367.8 358.5 L368.7 358.5 L368.7 354.9 L370.5 354.9 L374.3 354.9 L374.3 352.9 L375.6 352.9 L375.6 352.2 L378.2 352.2 L378.2 350.8 L379.8 350.8 L379.8 350.0 L379.8 348.6 L382.3 348.6 L382.3 347.6 L384.1 347.6 L384.1 346.8 L385.7 346.8 L389.6 346.8 L389.6 344.7 L390.4 344.7 L390.4 344.3 L390.4 340.8 L393.0 340.8 L395.0 340.8 L395.0 338.2 L395.0 334.8 L397.5 334.8 L398.4 334.8 L398.4 333.7 L401.6 333.7 L401.6 330.0 L401.6 328.4 L403.0 328.4 L403.0 326.8 L404.4 326.8 L404.4 325.5 L405.5 325.5 L405.5 324.1 L406.6 324.1 L406.6 323.0 L407.6 323.0 L407.6 321.3 L410.1 321.3 L413.8 321.3 L413.8 318.6 L415.9 318.6 L415.9 317.1 L416.9 317.1 L416.9 316.4 L416.9 313.5 L419.4 313.5 L419.4 310.5 L422.1 310.5 L424.1 310.5 L424.1 308.2 L426.1 308.2 L426.1 306.0 L426.2 306.0 L426.2 305.8 L426.2 302.9 L428.6 302.9 L428.6 301.6 L429.7 301.6 L431.4 301.6 L431.4 299.6 L431.4 297.9 L432.8 297.9 L432.8 295.1 L434.7 295.1 L437.2 295.1 L437.2 291.3 L437.2 289.9 L438.1 289.9 L438.1 287.1 L441.0 287.1 L444.2 287.1 L444.2 284.2 L446.9 284.2 L446.9 281.6 L446.9 281.5 L447.0 281.5 L447.0 279.9 L448.1 279.9 L450.5 279.9 L450.5 276.5 L453.3 276.5 L453.3 272.6 L453.3 272.1 L453.6 272.1 L455.0 272.1 L455.0 270.7 L455.0 268.8 L456.9 268.8 L456.9 264.9 L460.7 264.9 L462.2 264.9 L462.2 263.4 L465.6 263.4 L465.6 261.1 L467.8 261.1 L467.8 259.7 L467.8 257.7 L470.9 257.7 L472.9 257.7 L472.9 255.9 L472.9 253.9 L475.4 253.9 L477.6 253.9 L477.6 251.9 L477.6 250.5 L479.2 250.5 L480.9 250.5 L480.9 249.1 L483.4 249.1 L483.4 246.6 L483.4 243.2 L486.8 243.2 L486.8 241.0 L489.0 241.0 L489.0 240.5 L489.5 240.5 L492.1 240.5 L492.1 237.3 L492.1 234.2 L494.6 234.2 L495.3 234.2 L495.3 233.3 L495.3 231.7 L499.0 231.7 L499.0 230.8 L501.2 230.8 L504.1 230.8 L504.1 229.5 L504.1 229.0 L505.3 229.0 L508.5 229.0 L508.5 227.1 L508.5 226.2 L510.0 226.2 L510.0 225.0 L512.1 225.0 L512.5 225.0 L512.5 224.7 L512.5 221.9 L515.3 221.9 L518.6 221.9 L518.6 218.6 L518.6 217.5 L519.7 217.5 L519.7 216.3 L522.1 216.3 L524.1 216.3 L524.1 215.3 L527.9 215.3 L527.9 213.4 L527.9 213.2 L528.3 213.2 L528.3 211.6 L531.2 211.6 L531.2 210.3 L533.4 210.3 L533.4 209.3 L535.1 209.3 L536.9 209.3 L536.9 208.3 L538.4 208.3 L538.4 207.4 L540.7 207.4 L540.7 206.4 L540.7 205.8 L542.2 205.8 L544.9 205.8 L544.9 204.6 L544.9 204.0 L546.2 204.0 L546.2 203.1 L548.4 203.1 L548.4 202.8 L551.0 202.8 L551.0 202.6 L552.9 202.6 L554.7 202.6 L554.7 202.3 L554.7 201.9 L558.3 201.9 L559.9 201.9 L559.9 201.7 L559.9 199.1 L561.9 199.1 L561.9 195.9 L564.3 195.9 L567.2 195.9 L567.2 194.3 L567.2 192.7 L570.0 192.7 L572.8 192.7 L572.8 191.1 L573.0 191.1 L573.0 191.0 L573.0 187.1 L575.8 187.1 L576.8 187.1 L576.8 185.6 L578.6 185.6 L578.6 183.1 L579.4 183.1 L579.4 182.0 L583.3 182.0 L583.3 178.1 L583.3 176.0 L585.4 176.0 L586.6 176.0 L586.6 174.8 L586.6 174.3 L588.0 174.3 L588.0 173.7 L589.4 173.7 L591.7 173.7 L591.7 172.9 L591.7 171.6 L595.0 171.6 L596.4 171.6 L596.4 171.1 L597.9 171.1 L597.9 170.5 L597.9 170.5 L598.0 170.5 L598.0 168.5 L599.7 168.5 L599.7 165.2 L602.4 165.2 L604.2 165.2 L604.2 163.0 L604.2 161.8 L605.2 161.8 L605.2 157.9 L608.4 157.9 L608.4 156.2 L609.8 156.2 L610.9 156.2 L610.9 154.8 L610.9 154.7 L611.0 154.7 L611.0 153.4 L612.1 153.4 L614.5 153.4 L614.5 150.3 L614.5 148.1 L616.2 148.1 L616.2 147.5 L616.7 147.5 L616.7 145.6 L619.9 145.6 L619.9 144.5 L621.7 144.5 L623.7 144.5 L623.7 143.3 L623.7 143.2 L623.9 143.2 L623.9 142.7 L625.8 142.7 L625.8 142.0 L628.2 142.0 L628.2 141.2 L630.9 141.2 L634.0 141.2 L634.0 140.3 L634.0 138.6 L637.4 138.6 L639.7 138.6 L639.7 137.4 L639.7 135.7 L643.1 135.7 L645.4 135.7 L645.4 134.6 L645.4 134.5 L645.5 134.5 L645.5 132.8 L648.5 132.8 L652.4 132.8 L652.4 130.5 L654.4 130.5 L654.4 129.4 L655.5 129.4 L655.5 128.8 L658.7 128.8 L658.7 126.5 L658.7 125.0 L660.8 125.0 L660.8 123.0 L663.7 123.0 L665.6 123.0 L665.6 121.6 L665.6 120.3 L669.5 120.3 L669.5 119.3 L672.4 119.3 L674.2 119.3 L674.2 118.7 L677.7 118.7 L677.7 117.2 L677.7 116.3 L679.7 116.3 L682.1 116.3 L682.1 115.3 L684.3 115.3 L684.3 114.4 L685.9 114.4 L685.9 113.4 L687.8 113.4 L687.8 112.3 L690.6 112.3 L690.6 110.6 L691.4 110.6 L691.4 110.1 L691.4 108.3 L694.1 108.3 L695.9 108.3 L695.9 107.1 L695.9 106.7 L696.5 106.7 L696.5 103.6 L700.4 103.6 L700.4 102.5 L701.8 102.5 L703.7 102.5 L703.7 101.0 L703.7 100.2 L705.6 100.2 L705.6 99.5 L707.3 99.5 L711.3 99.5 L711.3 97.7 L713.7 97.7 L713.7 96.7 L716.9 96.7 L716.9 95.6 L716.9 94.9 L719.0 94.9 L719.0 93.6 L722.9 93.6 L726.1 93.6 L726.1 92.6 L726.7 92.6 L726.7 92.4 L729.0 92.4 L729.0 91.5 L731.4 91.5 L731.4 90.5 L731.4 89.7 L733.3 89.7 L733.3 89.5 L733.9 89.5 L733.9 88.9 L735.8 88.9 L735.8 88.4 L737.1 88.4 L737.1 87.5 L739.8 87.5 L742.0 87.5 L742.0 86.8 L742.0 86.6 L742.5 86.6 L744.9 86.6 L744.9 85.7 L744.9 84.6 L747.9 84.6 L751.1 84.6 L751.1 83.4 L751.1 82.3 L754.0 82.3 L754.0 81.5 L756.3 81.5 L757.9 81.5 L757.9 80.8 L757.9 79.5 L761.4 79.5 L761.4 78.8 L763.3 78.8 L763.3 78.0 L765.4 78.0 L765.5 78.0 L765.5 78.0 L767.1 78.0 L767.1 77.5 L767.1 76.6 L769.7 76.6 L769.7 75.6 L772.8 75.6 L772.8 74.3 L776.7 74.3 L778.4 74.3 L778.4 73.7 L778.4 73.0 L781.7 73.0 L784.4 73.0 L784.4 72.4 L788.0 72.4 L788.0 71.5 L791.3 71.5 L791.3 70.8 L791.3 70.8 L791.3 70.8 L791.3 69.9 L795.2 69.9 L795.2 69.3 L798.0 69.3 L801.0 69.3 L801.0 68.6 L804.8 68.6 L804.8 67.7 L804.8 67.5 L805.5 67.5" stroke="#e66101" stroke-width="4.6" fill="none" stroke-linejoin="round" stroke-linecap="round" clip-path="url(#clipA)"/>
<path d="M190.0 683.0 L190.3 683.0 L190.3 679.8 L190.3 677.2 L190.6 677.2 L190.6 675.7 L190.7 675.7 L191.1 675.7 L191.1 671.9 L191.1 669.6 L191.3 669.6 L191.3 666.0 L192.0 666.0 L192.0 662.3 L192.8 662.3 L192.8 659.9 L193.3 659.9 L193.9 659.9 L193.9 656.7 L193.9 656.3 L194.0 656.3 L194.0 652.9 L194.9 652.9 L194.9 651.6 L195.3 651.6 L195.8 651.6 L195.8 649.5 L196.2 649.5 L196.2 648.2 L197.3 648.2 L197.3 644.3 L197.6 644.3 L197.6 643.0 L198.5 643.0 L198.5 639.7 L198.5 637.1 L199.1 637.1 L199.1 636.4 L199.3 636.4 L199.3 633.0 L200.8 633.0 L201.9 633.0 L201.9 630.5 L201.9 629.8 L202.2 629.8 L202.2 625.9 L204.0 625.9 L205.4 625.9 L205.4 623.0 L205.4 621.2 L206.2 621.2 L206.2 618.3 L208.2 618.3 L209.4 618.3 L209.4 616.7 L209.4 616.5 L209.5 616.5 L209.5 614.6 L210.7 614.6 L212.1 614.6 L212.1 612.2 L212.1 610.5 L213.1 610.5 L213.1 609.9 L213.5 609.9 L216.2 609.9 L216.2 606.5 L218.8 606.5 L218.8 603.3 L218.8 600.8 L220.4 600.8 L221.7 600.8 L221.7 598.8 L221.7 597.0 L222.8 597.0 L222.8 594.5 L224.5 594.5 L225.6 594.5 L225.6 592.8 L227.4 592.8 L227.4 590.0 L228.4 590.0 L228.4 587.6 L228.4 585.9 L229.1 585.9 L229.1 584.4 L229.8 584.4 L230.9 584.4 L230.9 582.0 L232.3 582.0 L232.3 579.1 L233.7 579.1 L233.7 576.0 L233.7 574.2 L234.6 574.2 L234.6 571.5 L235.9 571.5 L235.9 569.5 L236.8 569.5 L236.8 567.0 L237.8 567.0 L238.6 567.0 L238.6 565.1 L239.1 565.1 L239.1 563.8 L239.7 563.8 L239.7 562.3 L240.8 562.3 L240.8 559.8 L241.4 559.8 L241.4 558.2 L241.7 558.2 L241.7 557.5 L245.5 557.5 L245.5 556.6 L245.5 556.0 L247.7 556.0 L247.7 554.4 L248.2 554.4 L248.2 551.5 L249.1 551.5 L249.7 551.5 L249.7 549.7 L249.7 549.7 L249.7 549.6 L250.1 549.6 L250.1 546.8 L250.4 546.8 L250.4 545.1 L250.6 545.1 L250.6 543.6 L250.6 541.0 L251.0 541.0 L251.2 541.0 L251.2 539.6 L251.2 537.9 L251.7 537.9 L252.8 537.9 L252.8 534.3 L252.8 531.0 L253.8 531.0 L253.8 529.7 L254.2 529.7 L255.5 529.7 L255.5 526.7 L256.1 526.7 L256.1 525.3 L256.1 523.5 L256.8 523.5 L257.6 523.5 L257.6 521.8 L258.4 521.8 L258.4 519.9 L258.4 516.2 L260.0 516.2 L260.6 516.2 L260.6 514.8 L262.3 514.8 L262.3 512.3 L262.3 508.9 L264.7 508.9 L264.7 506.4 L266.5 506.4 L266.5 505.0 L267.5 505.0 L267.6 505.0 L267.6 504.8 L268.4 504.8 L268.4 502.8 L268.4 499.2 L269.9 499.2 L269.9 497.0 L270.8 497.0 L271.6 497.0 L271.6 494.9 L272.8 494.9 L272.8 493.2 L272.8 490.7 L274.6 490.7 L276.9 490.7 L276.9 487.5 L278.0 487.5 L278.0 486.0 L278.0 483.3 L279.3 483.3 L279.3 481.4 L280.3 481.4 L281.0 481.4 L281.0 480.0 L281.0 477.2 L282.5 477.2 L283.9 477.2 L283.9 474.4 L284.8 474.4 L284.8 472.8 L285.8 472.8 L285.8 470.8 L285.8 469.4 L286.5 469.4 L288.5 469.4 L288.5 466.4 L288.5 464.9 L289.5 464.9 L290.4 464.9 L290.4 463.5 L292.3 463.5 L292.3 460.6 L292.3 458.7 L293.6 458.7 L295.4 458.7 L295.4 456.0 L297.5 456.0 L297.5 452.9 L297.5 450.6 L299.3 450.6 L301.2 450.6 L301.2 448.2 L303.3 448.2 L303.3 445.6 L304.6 445.6 L304.6 444.1 L306.4 444.1 L306.4 441.8 L306.4 438.3 L308.0 438.3 L308.0 435.9 L309.1 435.9 L310.3 435.9 L310.3 433.4 L310.3 431.6 L311.1 431.6 L311.1 428.8 L312.4 428.8 L313.0 428.8 L313.0 427.5 L313.0 426.8 L314.8 426.8 L314.8 425.8 L316.9 425.8 L318.5 425.8 L318.5 425.2 L321.3 425.2 L321.3 421.5 L321.3 420.0 L322.4 420.0 L322.4 416.9 L324.7 416.9 L324.7 416.4 L325.1 416.4 L327.3 416.4 L327.3 413.1 L330.0 413.1 L330.0 409.1 L330.0 405.2 L332.6 405.2 L332.6 403.1 L334.0 403.1 L336.0 403.1 L336.0 399.2 L337.0 399.2 L337.0 397.1 L338.1 397.1 L338.1 394.8 L338.1 392.6 L339.2 392.6 L339.5 392.6 L339.5 392.1 L341.3 392.1 L341.3 388.4 L343.0 388.4 L343.0 385.1 L343.0 381.3 L344.9 381.3 L345.0 381.3 L345.0 381.0 L348.8 381.0 L348.8 378.8 L349.4 378.8 L349.4 378.5 L352.9 378.5 L352.9 378.0 L353.3 378.0 L353.3 378.0 L353.3 375.2 L356.9 375.2 L356.9 372.4 L360.5 372.4 L362.2 372.4 L362.2 371.1 L362.2 370.8 L362.5 370.8 L365.2 370.8 L365.2 367.4 L368.0 367.4 L368.0 363.9 L368.0 360.7 L370.6 360.7 L373.0 360.7 L373.0 357.7 L373.0 357.5 L373.2 357.5 L375.9 357.5 L375.9 355.7 L379.2 355.7 L379.2 353.5 L380.6 353.5 L380.6 352.5 L381.1 352.5 L381.1 352.2 L383.6 352.2 L383.6 350.0 L387.1 350.0 L387.1 346.9 L388.5 346.9 L388.5 343.7 L388.5 340.3 L390.0 340.3 L391.7 340.3 L391.7 336.4 L391.7 336.4 L391.7 336.3 L392.3 336.3 L392.3 334.8 L393.6 334.8 L393.6 331.7 L395.0 331.7 L395.0 328.4 L395.0 326.4 L396.8 326.4 L398.2 326.4 L398.2 324.7 L399.7 324.7 L399.7 323.0 L402.2 323.0 L402.2 321.0 L405.1 321.0 L405.1 318.7 L405.1 317.7 L406.3 317.7 L407.6 317.7 L407.6 316.9 L407.6 315.0 L410.3 315.0 L410.3 313.7 L412.3 313.7 L414.3 313.7 L414.3 312.4 L414.3 310.2 L416.5 310.2 L419.1 310.2 L419.1 307.6 L420.9 307.6 L420.9 305.8 L422.5 305.8 L422.5 304.5 L422.5 302.9 L424.5 302.9 L426.8 302.9 L426.8 301.1 L426.8 300.5 L427.5 300.5 L431.4 300.5 L431.4 300.5 L431.4 300.5 L433.1 300.5 L434.7 300.5 L434.7 300.5 L435.5 300.5 L435.5 300.5 L437.4 300.5 L437.4 298.1 L437.4 295.9 L439.2 295.9 L439.2 293.9 L440.8 293.9 L440.8 290.4 L442.2 290.4 L442.9 290.4 L442.9 288.5 L444.4 288.5 L444.4 284.8 L445.0 284.8 L445.0 283.3 L445.6 283.3 L445.6 281.8 L446.1 281.8 L446.1 280.6 L446.1 279.3 L447.8 279.3 L447.8 277.7 L449.9 277.7 L451.4 277.7 L451.4 276.6 L454.3 276.6 L454.3 274.7 L457.0 274.7 L457.0 273.0 L457.0 270.5 L460.6 270.5 L461.9 270.5 L461.9 269.5 L465.4 269.5 L465.4 267.1 L466.6 267.1 L466.6 266.3 L466.6 264.6 L468.3 264.6 L469.9 264.6 L469.9 263.0 L469.9 260.8 L472.1 260.8 L473.4 260.8 L473.4 259.5 L474.8 259.5 L474.8 258.1 L474.8 257.7 L475.2 257.7 L475.2 256.3 L476.9 256.3 L476.9 253.2 L480.8 253.2 L480.8 252.0 L482.4 252.0 L482.4 248.2 L485.2 248.2 L485.2 246.2 L486.7 246.2 L486.7 243.3 L488.2 243.3 L488.2 239.9 L489.9 239.9 L489.9 237.6 L491.0 237.6 L493.3 237.6 L493.3 236.7 L497.1 236.7 L497.1 235.1 L498.2 235.1 L498.2 234.7 L500.1 234.7 L500.1 233.4 L502.5 233.4 L502.5 231.8 L503.2 231.8 L503.2 229.5 L503.2 225.7 L504.5 225.7 L504.5 223.2 L505.3 223.2 L507.9 223.2 L507.9 219.9 L507.9 218.4 L509.0 218.4 L509.7 218.4 L509.7 217.5 L509.7 215.7 L512.0 215.7 L512.0 213.7 L514.8 213.7 L514.8 213.2 L515.4 213.2 L518.4 213.2 L518.4 211.7 L520.5 211.7 L520.5 210.7 L520.5 209.1 L523.6 209.1 L524.0 209.1 L524.0 208.9 L525.3 208.9 L525.3 207.6 L528.7 207.6 L528.7 204.2 L528.7 203.1 L529.8 203.1 L529.8 201.1 L532.4 201.1 L532.4 197.9 L536.4 197.9 L537.0 197.9 L537.0 197.4 L537.0 194.9 L540.7 194.9 L542.2 194.9 L542.2 193.9 L542.2 191.6 L545.6 191.6 L547.0 191.6 L547.0 190.7 L547.0 188.6 L550.1 188.6 L552.7 188.6 L552.7 186.9 L554.2 186.9 L554.2 185.9 L554.2 185.9 L554.2 185.9 L555.8 185.9 L555.8 185.1 L555.8 183.5 L559.1 183.5 L559.1 181.6 L562.8 181.6 L565.5 181.6 L565.5 178.9 L567.8 178.9 L567.8 176.6 L568.6 176.6 L568.6 175.8 L570.6 175.8 L570.6 174.6 L574.0 174.6 L574.0 172.5 L574.0 171.7 L576.2 171.7 L576.2 170.6 L579.2 170.6 L583.0 170.6 L583.0 169.2 L583.0 169.0 L583.7 169.0 L583.7 167.6 L585.1 167.6 L588.9 167.6 L588.9 163.8 L588.9 161.8 L590.9 161.8 L594.9 161.8 L594.9 158.8 L594.9 157.5 L596.6 157.5 L596.6 155.8 L600.5 155.8 L600.5 154.8 L602.9 154.8 L605.0 154.8 L605.0 153.9 L605.0 153.2 L606.6 153.2 L606.7 153.2 L606.7 153.2 L606.7 152.5 L609.1 152.5 L609.1 152.1 L610.5 152.1 L612.2 152.1 L612.2 151.6 L615.1 151.6 L615.1 150.8 L615.1 150.3 L616.7 150.3 L616.7 149.4 L619.0 149.4 L619.0 148.5 L621.3 148.5 L621.3 148.0 L622.6 148.0 L623.9 148.0 L623.9 147.5 L625.7 147.5 L625.7 143.9 L625.7 141.6 L626.9 141.6 L626.9 138.9 L628.2 138.9 L630.6 138.9 L630.6 137.9 L634.1 137.9 L634.1 136.5 L635.4 136.5 L635.4 136.0 L635.4 133.4 L638.9 133.4 L641.1 133.4 L641.1 131.7 L641.1 129.9 L644.1 129.9 L646.8 129.9 L646.8 128.3 L646.8 127.4 L648.3 127.4 L650.0 127.4 L650.0 126.7 L651.9 126.7 L651.9 126.0 L651.9 124.7 L655.1 124.7 L655.5 124.7 L655.5 124.5 L655.5 123.4 L657.0 123.4 L659.8 123.4 L659.8 121.3 L661.3 121.3 L661.3 120.2 L661.3 119.1 L662.8 119.1 L662.8 116.8 L665.8 116.8 L667.0 116.8 L667.0 115.9 L667.0 115.3 L669.9 115.3 L669.9 114.7 L672.4 114.7 L672.4 114.2 L674.9 114.2 L674.9 113.8 L676.5 113.8 L676.5 113.7 L677.1 113.7 L677.1 112.7 L681.1 112.7 L683.6 112.7 L683.6 112.1 L683.6 111.6 L685.7 111.6 L688.5 111.6 L688.5 110.6 L691.8 110.6 L691.8 109.3 L691.8 108.5 L694.0 108.5 L697.6 108.5 L697.6 105.5 L699.4 105.5 L699.4 103.9 L699.4 103.6 L700.9 103.6 L702.3 103.6 L702.3 103.3 L702.3 102.7 L705.4 102.7 L705.4 102.0 L709.0 102.0 L710.7 102.0 L710.7 101.6 L713.4 101.6 L713.4 101.1 L713.7 101.1 L713.7 101.0 L713.7 100.0 L717.1 100.0 L717.1 99.4 L719.3 99.4 L722.8 99.4 L722.8 98.4 L722.8 98.1 L723.8 98.1 L723.8 97.9 L725.5 97.9 L729.1 97.9 L729.1 97.6 L730.8 97.6 L730.8 97.5 L734.2 97.5 L734.2 97.2 L736.6 97.2 L736.6 97.0 L738.7 97.0 L738.7 96.8 L738.7 96.7 L739.6 96.7 L741.8 96.7 L741.8 93.9 L741.8 90.2 L744.8 90.2 L745.3 90.2 L745.3 89.5 L746.8 89.5 L746.8 87.6 L746.8 85.6 L748.2 85.6 L749.7 85.6 L749.7 83.7 L752.2 83.7 L752.2 83.0 L752.2 82.6 L753.7 82.6 L757.5 82.6 L757.5 81.5 L757.5 81.0 L759.3 81.0 L759.3 80.9 L759.7 80.9 L761.4 80.9 L761.4 80.5 L763.1 80.5 L763.1 80.0 L763.1 79.7 L764.5 79.7 L764.5 78.9 L767.7 78.9 L767.7 78.1 L770.9 78.1 L771.2 78.1 L771.2 78.0 L774.5 78.0 L774.5 76.8 L774.5 75.9 L776.8 75.9 L776.8 74.8 L779.6 74.8 L781.5 74.8 L781.5 74.1 L781.5 73.7 L782.7 73.7 L785.0 73.7 L785.0 73.1 L787.8 73.1 L787.8 72.4 L787.8 71.8 L790.4 71.8 L793.4 71.8 L793.4 71.0 L794.2 71.0 L794.2 70.8 L797.8 70.8 L797.8 69.7 L799.4 69.7 L799.4 69.3 L801.8 69.3 L801.8 68.6 L801.8 68.0 L803.9 68.0 L805.5 68.0 L805.5 67.5" stroke="#5e3c99" stroke-width="4.6" fill="none" stroke-linejoin="round" stroke-linecap="round" clip-path="url(#clipA)"/>
<path d="M95.5 707.4V43.5" stroke="#999" stroke-width="3"/>
<path d="M94.0 707.4H899.3" stroke="#999" stroke-width="3"/>
<path d="M94.0 43.5H899.3V708.9" stroke="#3c3c3c" stroke-width="2" fill="none"/>
<path d="M95.5 67.5V683.0" stroke="#505050" stroke-width="3"/>
<path d="M190.0 707.4H805.5" stroke="#454545" stroke-width="3"/>
<path d="M80.5 683.0H95.5M805.5 707.4V722.4M80.5 559.9H95.5M682.4 707.4V722.4M80.5 436.8H95.5M559.3 707.4V722.4M80.5 313.7H95.5M436.2 707.4V722.4M80.5 190.6H95.5M313.1 707.4V722.4M80.5 67.5H95.5M190.0 707.4V722.4" stroke="#2a2a2a" stroke-width="2"/>
<text x="805.5" y="757.8" text-anchor="middle" font-size="23">0.0</text>
<text transform="translate(62.2 683.0) rotate(-90)" text-anchor="middle" font-size="23">0.0</text>
<text x="682.4" y="757.8" text-anchor="middle" font-size="23">0.2</text>
<text transform="translate(62.2 559.9) rotate(-90)" text-anchor="middle" font-size="23">0.2</text>
<text x="559.3" y="757.8" text-anchor="middle" font-size="23">0.4</text>
<text transform="translate(62.2 436.8) rotate(-90)" text-anchor="middle" font-size="23">0.4</text>
<text x="436.2" y="757.8" text-anchor="middle" font-size="23">0.6</text>
<text transform="translate(62.2 313.7) rotate(-90)" text-anchor="middle" font-size="23">0.6</text>
<text x="313.1" y="757.8" text-anchor="middle" font-size="23">0.8</text>
<text transform="translate(62.2 190.6) rotate(-90)" text-anchor="middle" font-size="23">0.8</text>
<text x="190.0" y="757.8" text-anchor="middle" font-size="23">1.0</text>
<text transform="translate(62.2 67.5) rotate(-90)" text-anchor="middle" font-size="23">1.0</text>
<text x="497.4" y="799.7" text-anchor="middle" font-size="23">Specificity</text>
<text transform="translate(20.4 375.2) rotate(-90)" text-anchor="middle" font-size="23">Sensitivity</text>
<text x="497.4" y="24.0" text-anchor="middle" font-size="27.95" font-weight="bold">AUC-ROC curves from Cross-validation</text>
<text x="2.2" y="34.0" font-size="44" font-weight="bold">A</text>
<rect x="546.8" y="535.3" width="265.4000000000001" height="159.5" fill="#fff" stroke="#3a3a3a" stroke-width="2"/>
<line x1="567" y1="567.1" x2="609.5" y2="567.1" stroke="#fdb863" stroke-width="8" stroke-linecap="round"/>
<text x="630" y="576.0" font-size="23">Central (0.68)</text>
<line x1="567" y1="599.0" x2="609.5" y2="599.0" stroke="#b2abd2" stroke-width="8" stroke-linecap="round"/>
<text x="630" y="607.9" font-size="23">Local (0.65)</text>
<line x1="567" y1="631.0" x2="609.5" y2="631.0" stroke="#e66101" stroke-width="8" stroke-linecap="round"/>
<text x="630" y="639.9" font-size="23">FedAvg (0.67)</text>
<line x1="567" y1="662.9" x2="609.5" y2="662.9" stroke="#5e3c99" stroke-width="8" stroke-linecap="round"/>
<text x="630" y="671.8" font-size="23">Ensemble (0.67)</text>
<clipPath id="clipB"><rect x="97.0" y="917.3" width="802.3" height="663.1000000000001"/></clipPath>
<path d="M805.8 917.3V1580.4M97.0 1555.7H899.3M744.3 917.3V1580.4M97.0 1494.2H899.3M682.8 917.3V1580.4M97.0 1432.7H899.3M621.4 917.3V1580.4M97.0 1371.3H899.3M559.9 917.3V1580.4M97.0 1309.8H899.3M498.4 917.3V1580.4M97.0 1248.3H899.3M436.9 917.3V1580.4M97.0 1186.8H899.3M375.4 917.3V1580.4M97.0 1125.3H899.3M314.0 917.3V1580.4M97.0 1063.9H899.3M252.5 917.3V1580.4M97.0 1002.4H899.3M191.0 917.3V1580.4M97.0 940.9H899.3" stroke="#c9c9c9" stroke-width="2" stroke-dasharray="2 3.8" fill="none"/>
<line x1="166.3" y1="1580.4" x2="829.4" y2="917.3" stroke="#c8c8c8" stroke-width="1.9"/>
<path d="M191.2 1555.8 L191.2 1555.8 L191.2 1553.0 L191.2 1553.0 L191.2 1551.3 L191.2 1549.5 L191.2 1549.5 L191.2 1547.7 L191.2 1547.7 L191.2 1547.7 L191.2 1544.2 L191.2 1544.2 L191.2 1542.3 L191.2 1540.7 L191.2 1540.7 L191.2 1538.3 L191.2 1538.3 L191.2 1538.3 L191.2 1537.3 L192.0 1537.3 L192.0 1534.1 L192.7 1534.1 L192.7 1531.2 L193.3 1531.2 L193.3 1529.1 L193.3 1527.2 L193.7 1527.2 L193.7 1523.7 L194.6 1523.7 L194.6 1521.7 L195.1 1521.7 L195.6 1521.7 L195.6 1519.6 L196.1 1519.6 L196.1 1517.9 L196.1 1515.4 L196.9 1515.4 L197.2 1515.4 L197.2 1514.1 L197.8 1514.1 L197.8 1512.1 L198.9 1512.1 L198.9 1508.6 L198.9 1505.5 L199.8 1505.5 L199.8 1502.4 L200.7 1502.4 L200.7 1498.6 L201.9 1498.6 L202.4 1498.6 L202.4 1496.8 L202.4 1493.4 L203.5 1493.4 L204.1 1493.4 L204.1 1491.1 L204.1 1488.4 L205.0 1488.4 L206.1 1488.4 L206.1 1484.5 L206.2 1484.5 L206.2 1484.2 L208.0 1484.2 L208.0 1480.3 L208.0 1476.3 L209.7 1476.3 L209.7 1473.1 L211.2 1473.1 L212.3 1473.1 L212.3 1470.5 L212.3 1467.7 L213.6 1467.7 L213.6 1465.7 L214.5 1465.7 L216.1 1465.7 L216.1 1462.2 L216.1 1459.5 L217.3 1459.5 L219.1 1459.5 L219.1 1455.5 L219.1 1453.0 L220.2 1453.0 L221.8 1453.0 L221.8 1449.4 L221.8 1448.8 L222.1 1448.8 L223.7 1448.8 L223.7 1445.4 L225.3 1445.4 L225.3 1442.1 L226.4 1442.1 L226.4 1439.7 L226.4 1437.5 L227.5 1437.5 L227.5 1435.5 L228.4 1435.5 L228.4 1433.1 L229.6 1433.1 L230.2 1433.1 L230.2 1431.7 L231.0 1431.7 L231.0 1430.1 L231.0 1428.3 L231.8 1428.3 L231.8 1428.0 L232.0 1428.0 L232.9 1428.0 L232.9 1426.2 L232.9 1423.0 L234.4 1423.0 L234.4 1421.3 L235.3 1421.3 L236.8 1421.3 L236.8 1418.2 L238.3 1418.2 L238.3 1415.2 L239.7 1415.2 L239.7 1412.2 L241.1 1412.2 L241.1 1409.3 L241.1 1407.2 L242.2 1407.2 L243.0 1407.2 L243.0 1405.6 L243.2 1405.6 L243.2 1405.1 L243.9 1405.1 L243.9 1403.6 L243.9 1401.3 L245.0 1401.3 L246.1 1401.3 L246.1 1398.9 L246.1 1395.3 L247.8 1395.3 L248.5 1395.3 L248.5 1393.7 L249.8 1393.7 L249.8 1391.0 L251.2 1391.0 L251.2 1387.9 L251.7 1387.9 L251.7 1386.9 L251.7 1385.6 L252.4 1385.6 L252.4 1382.7 L254.0 1382.7 L255.9 1382.7 L255.9 1379.3 L255.9 1377.0 L257.2 1377.0 L257.2 1374.9 L258.3 1374.9 L258.4 1374.9 L258.4 1374.7 L258.4 1371.4 L260.7 1371.4 L260.7 1368.4 L262.8 1368.4 L264.0 1368.4 L264.0 1366.7 L265.7 1366.7 L265.7 1364.2 L265.7 1361.6 L267.5 1361.6 L267.5 1359.0 L269.3 1359.0 L269.3 1358.0 L270.0 1358.0 L271.2 1358.0 L271.2 1356.4 L271.2 1354.4 L272.7 1354.4 L272.7 1351.7 L274.7 1351.7 L274.7 1349.1 L276.6 1349.1 L276.6 1346.1 L278.8 1346.1 L281.5 1346.1 L281.5 1342.5 L283.8 1342.5 L283.8 1339.2 L283.8 1338.2 L284.6 1338.2 L284.6 1336.5 L285.8 1336.5 L285.8 1335.1 L286.8 1335.1 L289.1 1335.1 L289.1 1331.8 L291.2 1331.8 L291.2 1328.8 L291.2 1326.1 L293.1 1326.1 L293.1 1324.0 L294.6 1324.0 L296.4 1324.0 L296.4 1321.5 L296.4 1319.2 L298.1 1319.2 L299.3 1319.2 L299.3 1317.5 L299.3 1315.4 L300.9 1315.4 L303.7 1315.4 L303.7 1311.5 L304.0 1311.5 L304.0 1311.0 L305.7 1311.0 L305.7 1308.5 L305.7 1306.7 L307.0 1306.7 L308.1 1306.7 L308.1 1305.1 L308.1 1303.8 L308.9 1303.8 L311.6 1303.8 L311.6 1299.8 L313.6 1299.8 L313.6 1297.0 L313.6 1295.6 L314.6 1295.6 L315.1 1295.6 L315.1 1294.8 L315.1 1292.3 L316.8 1292.3 L316.8 1288.9 L319.0 1288.9 L320.7 1288.9 L320.7 1286.5 L322.8 1286.5 L322.8 1283.3 L325.0 1283.3 L325.0 1280.0 L327.0 1280.0 L327.0 1277.8 L329.6 1277.8 L329.6 1274.9 L329.6 1272.1 L332.1 1272.1 L332.4 1272.1 L332.4 1271.8 L332.4 1269.0 L334.7 1269.0 L334.7 1266.7 L336.5 1266.7 L336.5 1264.7 L338.1 1264.7 L338.1 1261.9 L340.1 1261.9 L341.1 1261.9 L341.1 1260.5 L343.6 1260.5 L343.6 1256.9 L344.7 1256.9 L344.7 1255.5 L344.7 1253.2 L346.3 1253.2 L348.9 1253.2 L348.9 1249.5 L348.9 1248.0 L350.0 1248.0 L353.7 1248.0 L353.7 1244.4 L356.8 1244.4 L356.8 1241.4 L356.8 1237.8 L360.4 1237.8 L363.2 1237.8 L363.2 1235.0 L363.2 1231.6 L366.7 1231.6 L369.1 1231.6 L369.1 1229.3 L369.1 1228.7 L369.7 1228.7 L373.4 1228.7 L373.4 1224.9 L375.3 1224.9 L375.3 1223.0 L375.3 1219.2 L379.0 1219.2 L382.6 1219.2 L382.6 1215.4 L385.0 1215.4 L385.0 1213.0 L387.0 1213.0 L387.0 1211.2 L389.8 1211.2 L389.8 1208.5 L391.1 1208.5 L391.1 1207.4 L391.1 1205.5 L393.1 1205.5 L395.1 1205.5 L395.1 1203.7 L397.8 1203.7 L397.8 1201.2 L398.0 1201.2 L398.0 1201.0 L398.0 1199.2 L400.4 1199.2 L400.4 1197.1 L403.2 1197.1 L406.6 1197.1 L406.6 1194.5 L406.6 1192.2 L409.7 1192.2 L409.7 1192.0 L410.0 1192.0 L411.5 1192.0 L411.5 1189.4 L413.0 1189.4 L413.0 1186.8 L413.0 1184.4 L414.5 1184.4 L415.6 1184.4 L415.6 1182.5 L415.6 1180.9 L416.5 1180.9 L416.5 1178.7 L417.8 1178.7 L417.8 1176.5 L419.1 1176.5 L419.1 1175.0 L420.0 1175.0 L420.0 1173.6 L421.2 1173.6 L421.2 1171.5 L422.9 1171.5 L422.9 1168.7 L425.3 1168.7 L428.5 1168.7 L428.5 1164.8 L428.5 1163.0 L430.0 1163.0 L431.5 1163.0 L431.5 1161.5 L431.5 1158.2 L434.8 1158.2 L437.5 1158.2 L437.5 1155.5 L437.5 1151.7 L441.3 1151.7 L441.3 1150.0 L443.0 1150.0 L444.8 1150.0 L444.8 1148.2 L444.8 1148.0 L445.0 1148.0 L445.0 1144.3 L448.7 1144.3 L451.4 1144.3 L451.4 1141.6 L455.2 1141.6 L455.2 1137.8 L455.2 1135.8 L457.2 1135.8 L458.0 1135.8 L458.0 1135.0 L458.0 1133.4 L461.1 1133.4 L461.1 1132.1 L463.6 1132.1 L463.6 1131.0 L465.6 1131.0 L469.0 1131.0 L469.0 1129.3 L471.4 1129.3 L471.4 1128.0 L472.6 1128.0 L472.6 1127.4 L472.6 1125.6 L475.3 1125.6 L478.4 1125.6 L478.4 1123.6 L480.5 1123.6 L480.5 1122.2 L480.5 1121.7 L481.2 1121.7 L481.2 1118.9 L484.8 1118.9 L486.9 1118.9 L486.9 1117.3 L490.6 1117.3 L490.6 1114.4 L493.5 1114.4 L493.5 1112.2 L495.0 1112.2 L495.0 1111.0 L495.0 1109.1 L496.4 1109.1 L497.7 1109.1 L497.7 1107.3 L497.7 1106.0 L498.7 1106.0 L500.1 1106.0 L500.1 1104.0 L501.8 1104.0 L501.8 1101.6 L501.8 1098.1 L504.4 1098.1 L504.4 1094.4 L507.1 1094.4 L508.8 1094.4 L508.8 1093.7 L510.4 1093.7 L510.4 1093.0 L513.4 1093.0 L513.4 1091.7 L513.4 1091.0 L515.0 1091.0 L515.0 1090.1 L517.1 1090.1 L519.7 1090.1 L519.7 1089.0 L519.7 1088.1 L522.0 1088.1 L522.0 1086.8 L525.1 1086.8 L525.1 1086.2 L526.6 1086.2 L526.6 1084.7 L530.3 1084.7 L530.3 1084.2 L531.6 1084.2 L531.6 1082.5 L533.7 1082.5 L536.5 1082.5 L536.5 1080.1 L536.5 1078.9 L537.9 1078.9 L537.9 1077.1 L540.1 1077.1 L540.1 1074.5 L543.1 1074.5 L543.1 1073.1 L544.9 1073.1 L544.9 1073.0 L545.0 1073.0 L545.0 1071.4 L547.6 1071.4 L548.9 1071.4 L548.9 1070.7 L548.9 1069.2 L551.4 1069.2 L551.4 1067.8 L553.6 1067.8 L557.5 1067.8 L557.5 1065.5 L557.5 1064.4 L559.3 1064.4 L559.3 1064.0 L560.0 1064.0 L560.0 1063.3 L561.5 1063.3 L565.4 1063.3 L565.4 1061.5 L568.3 1061.5 L568.3 1060.1 L569.9 1060.1 L569.9 1059.4 L572.7 1059.4 L572.7 1058.1 L574.9 1058.1 L574.9 1057.0 L574.9 1057.0 L575.0 1057.0 L577.6 1057.0 L577.6 1055.1 L577.6 1054.1 L579.0 1054.1 L579.0 1051.5 L582.5 1051.5 L583.9 1051.5 L583.9 1050.5 L585.7 1050.5 L585.7 1049.1 L587.6 1049.1 L587.6 1047.7 L590.0 1047.7 L590.0 1046.0 L590.0 1044.1 L593.6 1044.1 L593.6 1042.2 L597.3 1042.2 L597.3 1040.1 L601.2 1040.1 L601.2 1039.7 L602.0 1039.7 L604.4 1039.7 L604.4 1038.3 L605.9 1038.3 L605.9 1037.4 L605.9 1036.2 L608.0 1036.2 L608.0 1034.1 L611.6 1034.1 L614.6 1034.1 L614.6 1032.3 L614.6 1031.5 L615.9 1031.5 L615.9 1029.6 L619.1 1029.6 L619.1 1029.6 L619.2 1029.6 L622.4 1029.6 L622.4 1026.4 L622.4 1022.5 L626.3 1022.5 L626.4 1022.5 L626.4 1022.4 L626.4 1019.6 L629.2 1019.6 L629.2 1015.8 L633.0 1015.8 L633.0 1015.2 L633.6 1015.2 L634.9 1015.2 L634.9 1012.8 L636.5 1012.8 L636.5 1010.0 L637.2 1010.0 L637.2 1008.7 L638.6 1008.7 L638.6 1006.2 L638.6 1005.6 L642.5 1005.6 L642.5 1005.2 L645.6 1005.2 L646.9 1005.2 L646.9 1005.0 L646.9 1004.7 L648.4 1004.7 L648.7 1004.7 L648.7 1004.7 L648.7 1003.5 L650.7 1003.5 L652.6 1003.5 L652.6 1002.4 L655.9 1002.4 L655.9 1000.4 L658.9 1000.4 L658.9 998.6 L658.9 997.4 L660.9 997.4 L660.9 995.3 L664.5 995.3 L665.0 995.3 L665.0 995.0 L667.2 995.0 L667.2 993.7 L667.2 991.6 L670.6 991.6 L672.1 991.6 L672.1 990.7 L672.1 988.8 L675.2 988.8 L675.2 987.5 L677.4 987.5 L677.4 987.5 L677.4 987.5 L677.4 986.4 L680.7 986.4 L680.7 985.2 L684.2 985.2 L684.2 984.6 L686.0 984.6 L686.0 983.3 L688.5 983.3 L688.5 982.0 L690.9 982.0 L692.8 982.0 L692.8 981.0 L694.4 981.0 L694.4 980.2 L694.4 979.3 L695.9 979.3 L695.9 977.4 L699.5 977.4 L699.5 975.3 L703.4 975.3 L707.0 975.3 L707.0 973.4 L707.6 973.4 L707.6 973.1 L711.0 973.1 L711.0 971.1 L711.0 969.1 L714.3 969.1 L717.5 969.1 L717.5 967.2 L720.6 967.2 L720.6 965.4 L720.6 964.5 L722.0 964.5 L724.1 964.5 L724.1 963.5 L727.2 963.5 L727.2 961.9 L728.8 961.9 L728.8 961.1 L728.8 960.2 L730.6 960.2 L730.6 959.5 L732.8 959.5 L732.8 958.6 L735.9 958.6 L737.5 958.6 L737.5 958.1 L740.6 958.1 L740.6 957.2 L742.7 957.2 L742.7 956.7 L742.7 956.1 L745.7 956.1 L745.7 955.3 L749.4 955.3 L751.4 955.3 L751.4 954.9 L753.6 954.9 L753.6 954.4 L753.6 953.3 L756.0 953.3 L759.3 953.3 L759.3 951.8 L759.3 951.1 L760.9 951.1 L760.9 950.4 L763.6 950.4 L763.6 950.0 L765.2 950.0 L767.6 950.0 L767.6 949.4 L767.6 948.6 L770.8 948.6 L770.8 947.7 L774.5 947.7 L777.0 947.7 L777.0 947.1 L777.0 946.2 L780.6 946.2 L780.6 946.0 L781.3 946.0 L781.3 945.3 L785.2 945.3 L785.2 945.0 L787.0 945.0 L787.0 944.5 L789.3 944.5 L789.3 944.2 L791.3 944.2 L791.3 943.6 L794.2 943.6 L794.2 943.1 L796.9 943.1 L799.0 943.1 L799.0 942.8 L802.0 942.8 L802.0 942.2 L802.0 941.7 L804.6 941.7 L805.8 941.7 L805.8 941.5" stroke="#fdb863" stroke-width="4.6" fill="none" stroke-linejoin="round" stroke-linecap="round" clip-path="url(#clipB)"/>
<path d="M191.2 1555.8 L191.2 1554.4 L191.2 1554.4 L191.2 1553.0 L191.2 1553.0 L191.2 1553.0 L191.2 1551.6 L191.2 1551.6 L191.2 1547.9 L191.2 1547.9 L191.2 1546.1 L191.2 1542.3 L192.0 1542.3 L192.0 1540.2 L192.4 1540.2 L193.1 1540.2 L193.1 1536.6 L193.7 1536.6 L193.7 1533.6 L194.3 1533.6 L194.3 1530.7 L194.3 1528.4 L194.7 1528.4 L195.1 1528.4 L195.1 1526.9 L195.1 1523.5 L196.2 1523.5 L196.2 1521.7 L196.7 1521.7 L196.7 1520.4 L197.1 1520.4 L197.1 1517.4 L198.0 1517.4 L198.5 1517.4 L198.5 1515.9 L199.6 1515.9 L199.6 1512.0 L200.0 1512.0 L200.0 1510.7 L200.5 1510.7 L200.5 1508.6 L201.0 1508.6 L201.0 1506.4 L201.0 1503.7 L201.6 1503.7 L201.6 1500.5 L202.3 1500.5 L202.3 1499.3 L202.6 1499.3 L203.4 1499.3 L203.4 1495.7 L203.4 1493.0 L204.0 1493.0 L204.7 1493.0 L204.7 1490.6 L205.9 1490.6 L205.9 1486.8 L205.9 1484.4 L206.6 1484.4 L207.8 1484.4 L207.8 1480.4 L207.8 1479.8 L208.0 1479.8 L208.0 1476.8 L209.2 1476.8 L210.6 1476.8 L210.6 1473.2 L211.5 1473.2 L211.5 1471.0 L212.7 1471.0 L212.7 1468.0 L212.7 1466.5 L213.3 1466.5 L214.9 1466.5 L214.9 1463.1 L216.7 1463.1 L216.7 1459.3 L216.7 1457.2 L217.7 1457.2 L217.7 1455.0 L218.7 1455.0 L218.7 1453.3 L219.5 1453.3 L221.3 1453.3 L221.3 1450.3 L223.0 1450.3 L223.0 1447.5 L223.0 1444.4 L224.8 1444.4 L226.3 1444.4 L226.3 1443.3 L228.3 1443.3 L228.3 1441.8 L228.6 1441.8 L228.6 1441.6 L229.5 1441.6 L229.5 1439.4 L229.5 1436.7 L230.6 1436.7 L230.6 1432.9 L232.1 1432.9 L232.6 1432.9 L232.6 1431.5 L232.6 1428.5 L233.8 1428.5 L235.0 1428.5 L235.0 1425.5 L235.0 1423.3 L235.9 1423.3 L235.9 1421.0 L238.0 1421.0 L238.0 1417.8 L240.9 1417.8 L243.1 1417.8 L243.1 1415.3 L243.1 1413.3 L245.0 1413.3 L245.0 1411.2 L246.9 1411.2 L246.9 1407.3 L248.7 1407.3 L248.7 1405.0 L249.8 1405.0 L250.4 1405.0 L250.4 1403.7 L250.4 1399.7 L252.2 1399.7 L253.9 1399.7 L253.9 1396.1 L255.4 1396.1 L255.4 1392.9 L255.4 1389.3 L257.8 1389.3 L257.8 1386.2 L259.8 1386.2 L261.5 1386.2 L261.5 1383.8 L262.5 1383.8 L262.5 1382.2 L262.5 1378.7 L264.8 1378.7 L264.8 1378.3 L265.1 1378.3 L265.1 1376.5 L265.9 1376.5 L267.7 1376.5 L267.7 1372.7 L268.8 1372.7 L268.8 1370.4 L268.8 1367.5 L270.1 1367.5 L270.1 1364.0 L271.7 1364.0 L271.7 1362.5 L272.4 1362.5 L272.4 1360.1 L274.5 1360.1 L275.9 1360.1 L275.9 1358.5 L278.3 1358.5 L278.3 1355.8 L278.3 1354.3 L279.6 1354.3 L280.9 1354.3 L280.9 1352.8 L281.6 1352.8 L281.6 1351.2 L281.6 1348.3 L282.8 1348.3 L284.3 1348.3 L284.3 1344.6 L284.3 1342.7 L285.1 1342.7 L285.8 1342.7 L285.8 1341.0 L287.0 1341.0 L287.0 1338.2 L288.7 1338.2 L288.7 1335.1 L288.7 1332.1 L290.4 1332.1 L290.4 1328.5 L292.4 1328.5 L292.4 1327.3 L293.1 1327.3 L293.1 1324.8 L294.7 1324.8 L296.3 1324.8 L296.3 1322.1 L296.3 1321.0 L297.0 1321.0 L297.0 1317.8 L298.8 1317.8 L300.9 1317.8 L300.9 1314.1 L302.2 1314.1 L302.2 1311.8 L302.2 1310.0 L303.2 1310.0 L303.2 1309.2 L303.6 1309.2 L304.8 1309.2 L304.8 1306.7 L306.8 1306.7 L306.8 1302.9 L306.8 1299.2 L308.6 1299.2 L309.4 1299.2 L309.4 1297.7 L309.4 1295.9 L310.6 1295.9 L310.6 1293.2 L312.4 1293.2 L314.5 1293.2 L314.5 1289.9 L314.5 1289.1 L315.1 1289.1 L315.1 1285.4 L317.4 1285.4 L319.6 1285.4 L319.6 1281.9 L319.6 1280.1 L320.7 1280.1 L321.7 1280.1 L321.7 1278.6 L321.7 1277.6 L322.3 1277.6 L325.0 1277.6 L325.0 1274.1 L325.0 1270.7 L327.8 1270.7 L327.8 1270.4 L328.0 1270.4 L329.3 1270.4 L329.3 1269.1 L331.7 1269.1 L331.7 1266.7 L331.7 1264.7 L333.8 1264.7 L336.6 1264.7 L336.6 1261.9 L339.5 1261.9 L339.5 1258.9 L339.5 1257.3 L340.7 1257.3 L340.7 1254.2 L342.9 1254.2 L342.9 1250.9 L345.2 1250.9 L345.2 1249.0 L346.6 1249.0 L346.7 1249.0 L346.7 1248.9 L349.9 1248.9 L349.9 1246.4 L351.1 1246.4 L351.1 1245.3 L352.8 1245.3 L352.8 1244.0 L352.8 1243.1 L353.9 1243.1 L355.3 1243.1 L355.3 1241.2 L356.9 1241.2 L356.9 1239.1 L356.9 1237.4 L358.2 1237.4 L358.2 1234.7 L361.4 1234.7 L363.4 1234.7 L363.4 1232.9 L363.4 1231.7 L364.8 1231.7 L367.3 1231.7 L367.3 1229.6 L368.3 1229.6 L368.3 1228.7 L368.3 1226.3 L371.6 1226.3 L374.6 1226.3 L374.6 1224.0 L376.2 1224.0 L376.2 1222.8 L376.2 1220.6 L379.1 1220.6 L379.8 1220.6 L379.8 1220.1 L379.8 1218.6 L380.5 1218.6 L380.5 1217.3 L381.2 1217.3 L381.9 1217.3 L381.9 1216.0 L382.6 1216.0 L382.6 1214.5 L382.6 1212.9 L383.4 1212.9 L384.1 1212.9 L384.1 1211.5 L384.1 1208.6 L387.5 1208.6 L390.0 1208.6 L390.0 1206.4 L390.0 1204.6 L392.2 1204.6 L392.2 1202.9 L394.1 1202.9 L394.1 1202.9 L394.1 1202.9 L395.8 1202.9 L395.8 1199.2 L395.8 1197.8 L396.4 1197.8 L396.4 1194.1 L399.5 1194.1 L400.9 1194.1 L400.9 1192.4 L403.6 1192.4 L403.6 1189.2 L403.6 1187.7 L404.9 1187.7 L404.9 1185.7 L406.6 1185.7 L406.6 1184.2 L407.9 1184.2 L407.9 1180.5 L411.0 1180.5 L411.0 1179.1 L412.2 1179.1 L412.2 1176.7 L414.6 1176.7 L418.0 1176.7 L418.0 1173.4 L418.0 1172.3 L419.6 1172.3 L419.6 1169.8 L422.9 1169.8 L422.9 1167.3 L426.5 1167.3 L426.5 1166.2 L428.0 1166.2 L430.0 1166.2 L430.0 1164.2 L433.1 1164.2 L433.1 1161.2 L433.1 1157.7 L436.6 1157.7 L436.6 1157.6 L436.7 1157.6 L440.5 1157.6 L440.5 1154.3 L440.5 1152.4 L442.8 1152.4 L442.8 1151.2 L444.1 1151.2 L444.1 1149.3 L446.3 1149.3 L446.7 1149.3 L446.7 1149.0 L447.6 1149.0 L447.6 1147.6 L447.6 1146.3 L448.5 1146.3 L450.2 1146.3 L450.2 1143.7 L452.4 1143.7 L452.4 1140.4 L452.5 1140.4 L452.5 1140.3 L452.5 1138.6 L453.6 1138.6 L453.6 1135.3 L455.8 1135.3 L455.8 1132.5 L457.7 1132.5 L457.7 1131.7 L458.2 1131.7 L459.6 1131.7 L459.6 1131.0 L463.2 1131.0 L463.2 1129.2 L464.8 1129.2 L464.8 1128.4 L466.3 1128.4 L466.3 1127.7 L466.3 1127.4 L466.8 1127.4 L466.8 1124.7 L469.5 1124.7 L469.5 1123.2 L471.0 1123.2 L472.6 1123.2 L472.6 1121.7 L475.0 1121.7 L475.0 1120.3 L478.8 1120.3 L478.8 1118.0 L479.8 1118.0 L479.8 1117.4 L483.8 1117.4 L483.8 1115.0 L483.8 1113.6 L486.1 1113.6 L486.1 1113.1 L487.0 1113.1 L489.1 1113.1 L489.1 1111.8 L489.1 1110.1 L491.9 1110.1 L491.9 1108.7 L494.1 1108.7 L496.7 1108.7 L496.7 1106.6 L496.7 1104.9 L498.9 1104.9 L500.5 1104.9 L500.5 1103.6 L501.3 1103.6 L501.3 1103.0 L502.7 1103.0 L502.7 1101.3 L502.7 1098.6 L504.8 1098.6 L506.4 1098.6 L506.4 1096.7 L506.4 1095.8 L507.1 1095.8 L510.2 1095.8 L510.2 1094.6 L513.8 1094.6 L513.8 1093.1 L513.8 1092.9 L514.3 1092.9 L516.1 1092.9 L516.1 1092.3 L518.9 1092.3 L518.9 1091.5 L518.9 1090.6 L521.7 1090.6 L523.5 1090.6 L523.5 1090.0 L527.2 1090.0 L527.2 1087.7 L527.2 1085.7 L530.5 1085.7 L530.5 1084.2 L533.0 1084.2 L536.7 1084.2 L536.7 1081.1 L539.5 1081.1 L539.5 1078.8 L539.5 1077.0 L541.6 1077.0 L541.6 1075.5 L545.3 1075.5 L546.9 1075.5 L546.9 1074.9 L546.9 1074.3 L548.4 1074.3 L548.8 1074.3 L548.8 1074.1 L548.8 1071.3 L552.3 1071.3 L552.3 1070.3 L553.7 1070.3 L555.2 1070.3 L555.2 1069.0 L555.2 1068.4 L556.0 1068.4 L556.0 1067.1 L558.6 1067.1 L560.5 1067.1 L560.5 1066.1 L562.6 1066.1 L562.6 1065.1 L562.6 1063.1 L566.6 1063.1 L566.6 1062.6 L567.5 1062.6 L569.2 1062.6 L569.2 1061.9 L571.7 1061.9 L571.7 1061.0 L571.7 1059.9 L574.5 1059.9 L574.5 1059.8 L574.7 1059.8 L577.5 1059.8 L577.5 1057.9 L579.0 1057.9 L579.0 1056.9 L582.5 1056.9 L582.5 1054.5 L582.5 1054.0 L583.3 1054.0 L583.3 1051.5 L586.5 1051.5 L586.5 1049.6 L588.8 1049.6 L590.5 1049.6 L590.5 1048.3 L590.5 1048.2 L592.0 1048.2 L594.5 1048.2 L594.5 1048.0 L594.5 1047.7 L597.7 1047.7 L597.7 1047.6 L599.1 1047.6 L602.2 1047.6 L602.2 1045.8 L605.0 1045.8 L605.0 1044.1 L605.0 1042.5 L607.7 1042.5 L609.7 1042.5 L609.7 1040.5 L609.7 1037.8 L612.4 1037.8 L613.4 1037.8 L613.4 1036.8 L613.4 1036.0 L615.4 1036.0 L615.4 1034.5 L619.1 1034.5 L620.6 1034.5 L620.6 1033.9 L620.6 1032.5 L623.4 1032.5 L626.4 1032.5 L626.4 1031.0 L626.4 1027.9 L628.5 1027.9 L629.3 1027.9 L629.3 1026.7 L631.1 1026.7 L631.1 1025.6 L631.1 1025.0 L632.0 1025.0 L634.6 1025.0 L634.6 1024.0 L637.0 1024.0 L637.0 1023.2 L637.0 1022.1 L640.0 1022.1 L640.1 1022.1 L640.1 1022.0 L640.1 1020.9 L641.4 1020.9 L641.4 1018.0 L645.0 1018.0 L645.0 1016.8 L646.4 1016.8 L647.2 1016.8 L647.2 1016.2 L651.0 1016.2 L651.0 1014.9 L652.5 1014.9 L652.5 1014.4 L655.7 1014.4 L655.7 1013.4 L655.9 1013.4 L655.9 1013.3 L655.9 1012.5 L658.3 1012.5 L661.5 1012.5 L661.5 1011.5 L661.5 1010.5 L664.5 1010.5 L664.5 1008.9 L667.6 1008.9 L669.4 1008.9 L669.4 1008.0 L672.6 1008.0 L672.6 1006.4 L672.6 1006.2 L673.1 1006.2 L673.1 1004.4 L676.6 1004.4 L676.6 1003.3 L678.8 1003.3 L678.8 1002.0 L681.4 1002.0 L681.7 1002.0 L681.7 1001.8 L683.7 1001.8 L683.7 1001.0 L683.7 999.8 L686.3 999.8 L689.2 999.8 L689.2 998.6 L689.2 997.8 L691.0 997.8 L691.0 997.5 L691.8 997.5 L691.8 993.6 L694.8 993.6 L695.9 993.6 L695.9 992.1 L695.9 991.8 L696.1 991.8 L696.1 988.3 L698.7 988.3 L698.7 986.6 L700.0 986.6 L700.4 986.6 L700.4 986.0 L700.4 984.6 L703.9 984.6 L705.6 984.6 L705.6 984.0 L707.6 984.0 L707.6 983.2 L711.0 983.2 L711.0 981.2 L714.2 981.2 L714.2 979.3 L714.2 978.9 L714.8 978.9 L718.0 978.9 L718.0 978.3 L718.0 977.7 L721.7 977.7 L723.4 977.7 L723.4 977.4 L723.4 976.6 L725.1 976.6 L726.4 976.6 L726.4 975.9 L728.0 975.9 L728.0 975.1 L730.9 975.1 L730.9 973.7 L730.9 973.1 L732.0 973.1 L732.0 971.3 L734.4 971.3 L737.4 971.3 L737.4 969.1 L737.8 969.1 L737.8 968.8 L737.8 967.9 L739.3 967.9 L739.3 966.0 L742.4 966.0 L744.2 966.0 L744.2 964.9 L744.2 964.5 L744.9 964.5 L746.3 964.5 L746.3 963.9 L749.6 963.9 L749.6 962.6 L752.1 962.6 L752.1 961.6 L755.5 961.6 L755.5 960.7 L755.5 960.2 L757.3 960.2 L757.3 959.5 L760.0 959.5 L760.9 959.5 L760.9 959.3 L764.2 959.3 L764.2 958.3 L767.9 958.3 L767.9 957.2 L767.9 956.4 L770.5 956.4 L773.0 956.4 L773.0 955.6 L773.0 954.9 L775.2 954.9 L775.2 954.4 L777.0 954.4 L777.0 953.6 L779.6 953.6 L779.6 953.1 L781.3 953.1 L784.5 953.1 L784.5 950.2 L786.9 950.2 L786.9 948.1 L786.9 948.0 L787.0 948.0 L790.3 948.0 L790.3 946.8 L793.2 946.8 L793.2 945.9 L796.2 945.9 L796.2 944.8 L798.0 944.8 L798.0 944.2 L798.0 943.3 L800.6 943.3 L800.6 942.0 L804.4 942.0 L804.4 941.5 L805.8 941.5" stroke="#e66101" stroke-width="4.6" fill="none" stroke-linejoin="round" stroke-linecap="round" clip-path="url(#clipB)"/>
<path d="M191.2 1555.8 L191.5 1555.8 L191.5 1553.9 L192.2 1553.9 L192.2 1550.4 L192.7 1550.4 L192.7 1547.8 L193.2 1547.8 L193.2 1544.9 L193.2 1543.6 L193.4 1543.6 L193.4 1541.7 L193.8 1541.7 L193.8 1537.8 L195.0 1537.8 L195.0 1536.6 L195.3 1536.6 L195.9 1536.6 L195.9 1534.8 L196.9 1534.8 L196.9 1531.2 L196.9 1528.4 L197.8 1528.4 L197.8 1526.3 L198.5 1526.3 L198.5 1522.6 L199.7 1522.6 L200.7 1522.6 L200.7 1519.6 L200.7 1517.1 L201.6 1517.1 L201.6 1515.2 L202.2 1515.2 L202.2 1512.9 L202.9 1512.9 L204.1 1512.9 L204.1 1509.0 L204.1 1505.6 L205.1 1505.6 L206.0 1505.6 L206.0 1502.7 L206.0 1501.9 L206.2 1501.9 L207.0 1501.9 L207.0 1499.4 L207.8 1499.4 L207.8 1497.1 L207.8 1493.9 L208.8 1493.9 L208.8 1491.8 L209.5 1491.8 L210.5 1491.8 L210.5 1489.0 L210.6 1489.0 L210.6 1488.6 L210.6 1486.6 L211.7 1486.6 L211.7 1483.4 L213.5 1483.4 L215.5 1483.4 L215.5 1479.8 L215.5 1476.2 L217.1 1476.2 L217.1 1473.0 L218.6 1473.0 L219.5 1473.0 L219.5 1471.0 L220.5 1471.0 L220.5 1468.6 L221.8 1468.6 L221.8 1465.0 L222.7 1465.0 L222.7 1462.9 L223.0 1462.9 L223.0 1462.1 L223.0 1458.2 L225.0 1458.2 L225.0 1454.6 L226.8 1454.6 L226.8 1453.3 L227.4 1453.3 L228.5 1453.3 L228.5 1451.1 L229.3 1451.1 L229.3 1449.5 L230.0 1449.5 L230.0 1448.2 L231.5 1448.2 L231.5 1445.2 L231.9 1445.2 L231.9 1444.4 L233.5 1444.4 L233.5 1440.8 L233.5 1439.4 L234.1 1439.4 L234.1 1436.3 L235.5 1436.3 L235.9 1436.3 L235.9 1435.5 L235.9 1431.9 L237.3 1431.9 L238.6 1431.9 L238.6 1428.7 L239.2 1428.7 L239.2 1427.3 L240.0 1427.3 L240.0 1425.2 L240.0 1422.7 L241.0 1422.7 L242.1 1422.7 L242.1 1420.0 L242.1 1417.7 L243.0 1417.7 L243.2 1417.7 L243.2 1417.2 L243.2 1414.6 L244.3 1414.6 L244.8 1414.6 L244.8 1413.1 L245.8 1413.1 L245.8 1410.7 L245.8 1407.6 L247.0 1407.6 L248.4 1407.6 L248.4 1404.2 L248.4 1402.3 L249.2 1402.3 L250.3 1402.3 L250.3 1399.4 L250.5 1399.4 L250.5 1399.0 L250.5 1396.4 L251.8 1396.4 L251.8 1393.0 L253.5 1393.0 L255.0 1393.0 L255.0 1390.0 L256.6 1390.0 L256.6 1386.9 L256.6 1384.1 L257.7 1384.1 L257.7 1382.6 L258.3 1382.6 L259.5 1382.6 L259.5 1379.8 L259.5 1376.4 L260.8 1376.4 L261.5 1376.4 L261.5 1374.7 L261.5 1371.5 L263.3 1371.5 L264.7 1371.5 L264.7 1369.0 L264.7 1366.6 L266.1 1366.6 L266.1 1366.2 L266.3 1366.2 L266.3 1363.2 L268.2 1363.2 L270.5 1363.2 L270.5 1359.5 L270.5 1356.5 L272.4 1356.5 L272.4 1353.8 L275.1 1353.8 L275.1 1352.2 L276.7 1352.2 L276.7 1350.4 L278.5 1350.4 L282.0 1350.4 L282.0 1346.9 L284.6 1346.9 L284.6 1344.3 L286.4 1344.3 L286.4 1341.4 L286.4 1337.4 L288.9 1337.4 L290.6 1337.4 L290.6 1334.6 L292.4 1334.6 L292.4 1332.4 L294.9 1332.4 L294.9 1329.4 L297.5 1329.4 L297.5 1326.2 L297.5 1324.7 L298.5 1324.7 L298.5 1321.3 L300.8 1321.3 L300.8 1317.7 L303.2 1317.7 L304.6 1317.7 L304.6 1315.7 L305.1 1315.7 L305.1 1314.9 L307.4 1314.9 L307.4 1312.1 L309.4 1312.1 L309.4 1309.7 L310.4 1309.7 L310.4 1308.4 L310.4 1306.3 L312.2 1306.3 L312.2 1303.8 L314.7 1303.8 L314.7 1302.4 L316.1 1302.4 L317.4 1302.4 L317.4 1301.1 L317.4 1299.1 L319.4 1299.1 L321.0 1299.1 L321.0 1297.5 L323.5 1297.5 L323.5 1295.0 L323.7 1295.0 L323.7 1294.8 L324.7 1294.8 L324.7 1292.5 L325.6 1292.5 L325.6 1290.2 L325.6 1286.2 L327.3 1286.2 L327.9 1286.2 L327.9 1284.9 L329.3 1284.9 L329.3 1282.3 L329.3 1280.9 L330.0 1280.9 L330.0 1279.2 L330.8 1279.2 L330.8 1276.1 L332.4 1276.1 L334.2 1276.1 L334.2 1275.4 L336.4 1275.4 L336.4 1274.5 L336.4 1273.4 L339.2 1273.4 L339.2 1273.3 L339.5 1273.3 L341.0 1273.3 L341.0 1270.9 L342.0 1270.9 L342.0 1269.2 L343.6 1269.2 L343.6 1266.6 L343.9 1266.6 L343.9 1266.1 L343.9 1262.2 L345.2 1262.2 L346.0 1262.2 L346.0 1259.5 L346.0 1257.5 L346.7 1257.5 L346.7 1255.4 L348.2 1255.4 L348.2 1253.4 L349.7 1253.4 L349.7 1251.7 L351.0 1251.7 L351.0 1249.1 L354.4 1249.1 L354.4 1248.1 L355.8 1248.1 L355.8 1247.4 L356.8 1247.4 L356.8 1246.1 L357.6 1246.1 L358.3 1246.1 L358.3 1244.9 L358.3 1241.6 L360.3 1241.6 L361.1 1241.6 L361.1 1240.2 L361.1 1236.6 L363.8 1236.6 L365.4 1236.6 L365.4 1234.5 L365.4 1233.6 L367.3 1233.6 L369.9 1233.6 L369.9 1232.2 L369.9 1231.6 L371.1 1231.6 L374.4 1231.6 L374.4 1228.3 L376.7 1228.3 L376.7 1226.1 L376.9 1226.1 L376.9 1225.9 L376.9 1222.7 L380.0 1222.7 L382.6 1222.7 L382.6 1220.1 L383.6 1220.1 L383.6 1218.5 L384.5 1218.5 L384.5 1217.0 L384.5 1215.0 L385.7 1215.0 L387.0 1215.0 L387.0 1212.9 L390.3 1212.9 L390.3 1209.6 L392.7 1209.6 L392.7 1207.2 L395.6 1207.2 L395.6 1204.9 L398.0 1204.9 L398.0 1203.0 L398.0 1203.0 L398.0 1203.0 L400.3 1203.0 L400.3 1201.0 L400.3 1199.3 L402.2 1199.3 L402.2 1197.7 L404.8 1197.7 L404.8 1196.6 L406.8 1196.6 L406.8 1195.0 L409.4 1195.0 L409.4 1191.5 L411.7 1191.5 L413.2 1191.5 L413.2 1189.1 L413.2 1187.9 L414.1 1187.9 L415.1 1187.9 L415.1 1186.3 L415.1 1186.3 L415.1 1186.3 L416.4 1186.3 L416.4 1183.7 L418.2 1183.7 L418.2 1180.0 L418.2 1177.7 L419.4 1177.7 L420.1 1177.7 L420.1 1176.3 L421.5 1176.3 L421.5 1173.4 L421.5 1170.6 L423.0 1170.6 L424.4 1170.6 L424.4 1167.7 L424.4 1166.2 L425.2 1166.2 L428.7 1166.2 L428.7 1163.4 L430.5 1163.4 L430.5 1162.0 L430.5 1160.8 L432.0 1160.8 L432.4 1160.8 L432.4 1160.5 L432.4 1156.8 L435.3 1156.8 L437.5 1156.8 L437.5 1154.1 L438.1 1154.1 L438.1 1153.3 L440.0 1153.3 L440.0 1151.7 L440.0 1150.4 L441.5 1150.4 L443.3 1150.4 L443.3 1149.0 L443.3 1146.1 L446.7 1146.1 L446.7 1145.5 L448.6 1145.5 L448.6 1144.3 L452.2 1144.3 L452.2 1143.6 L454.2 1143.6 L455.3 1143.6 L455.3 1143.2 L455.3 1141.8 L457.1 1141.8 L457.1 1140.5 L458.7 1140.5 L462.5 1140.5 L462.5 1137.5 L465.4 1137.5 L465.4 1136.1 L468.9 1136.1 L468.9 1134.3 L468.9 1133.2 L471.1 1133.2 L471.1 1132.9 L473.6 1132.9 L476.6 1132.9 L476.6 1132.6 L476.6 1132.2 L479.4 1132.2 L479.4 1132.0 L481.5 1132.0 L484.1 1132.0 L484.1 1131.7 L485.9 1131.7 L485.9 1128.0 L487.4 1128.0 L487.4 1125.0 L487.4 1123.1 L488.4 1123.1 L488.4 1120.2 L491.3 1120.2 L491.3 1118.8 L492.7 1118.8 L492.7 1115.9 L495.6 1115.9 L495.6 1112.6 L498.2 1112.6 L499.7 1112.6 L499.7 1110.7 L499.7 1109.2 L500.9 1109.2 L500.9 1108.7 L501.3 1108.7 L502.9 1108.7 L502.9 1108.3 L505.4 1108.3 L505.4 1107.7 L506.7 1107.7 L506.7 1107.4 L507.1 1107.4 L507.1 1107.3 L507.1 1105.8 L508.2 1105.8 L510.1 1105.8 L510.1 1103.3 L510.1 1101.6 L511.4 1101.6 L514.6 1101.6 L514.6 1099.3 L514.6 1097.2 L517.6 1097.2 L518.6 1097.2 L518.6 1096.5 L520.5 1096.5 L520.5 1095.1 L522.2 1095.1 L522.2 1093.8 L525.7 1093.8 L525.7 1091.1 L525.7 1089.9 L527.2 1089.9 L527.2 1088.0 L531.1 1088.0 L531.1 1087.4 L532.4 1087.4 L532.4 1085.7 L535.7 1085.7 L535.7 1085.6 L535.9 1085.6 L535.9 1082.1 L538.4 1082.1 L540.6 1082.1 L540.6 1079.0 L540.6 1077.2 L541.9 1077.2 L543.0 1077.2 L543.0 1075.7 L543.0 1075.6 L543.0 1075.6 L543.0 1071.9 L546.7 1071.9 L548.8 1071.9 L548.8 1069.8 L548.8 1068.6 L550.9 1068.6 L550.9 1066.9 L553.7 1066.9 L553.7 1065.5 L556.0 1065.5 L556.0 1064.5 L558.4 1064.5 L558.4 1063.4 L561.3 1063.4 L561.3 1062.7 L563.0 1062.7 L563.0 1062.6 L563.2 1062.6 L563.2 1061.2 L564.3 1061.2 L564.3 1058.3 L566.4 1058.3 L567.5 1058.3 L567.5 1056.9 L567.5 1055.7 L569.8 1055.7 L569.8 1054.0 L573.2 1054.0 L573.2 1054.0 L573.2 1054.0 L577.1 1054.0 L577.1 1052.0 L577.1 1050.7 L579.7 1050.7 L579.7 1049.7 L581.8 1049.7 L583.1 1049.7 L583.1 1048.9 L583.1 1047.9 L584.8 1047.9 L587.5 1047.9 L587.5 1046.3 L589.0 1046.3 L589.0 1045.4 L589.0 1045.3 L590.7 1045.3 L594.1 1045.3 L594.1 1045.1 L594.1 1044.9 L597.5 1044.9 L599.5 1044.9 L599.5 1044.8 L599.5 1044.7 L600.5 1044.7 L602.1 1044.7 L602.1 1043.7 L606.1 1043.7 L606.1 1041.3 L606.3 1041.3 L606.3 1041.1 L608.6 1041.1 L608.6 1038.1 L608.6 1035.3 L610.6 1035.3 L610.6 1033.2 L613.3 1033.2 L616.3 1033.2 L616.3 1031.0 L617.8 1031.0 L617.8 1030.3 L617.8 1029.1 L620.2 1029.1 L620.2 1028.3 L621.9 1028.3 L622.1 1028.3 L622.1 1028.2 L625.3 1028.2 L625.3 1027.3 L625.3 1026.5 L628.2 1026.5 L628.2 1026.1 L630.0 1026.1 L630.0 1025.8 L631.0 1025.8 L633.5 1025.8 L633.5 1023.6 L633.5 1020.7 L636.7 1020.7 L636.7 1019.1 L638.6 1019.1 L641.7 1019.1 L641.7 1016.0 L643.1 1016.0 L643.1 1014.6 L643.1 1011.9 L645.8 1011.9 L645.8 1010.4 L647.3 1010.4 L649.1 1010.4 L649.1 1008.6 L649.1 1007.0 L650.7 1007.0 L653.0 1007.0 L653.0 1004.7 L653.0 1002.3 L655.4 1002.3 L655.4 1000.9 L656.8 1000.9 L660.2 1000.9 L660.2 997.5 L664.2 997.5 L664.2 995.5 L667.8 995.5 L667.8 993.7 L667.8 993.2 L668.8 993.2 L672.8 993.2 L672.8 991.9 L675.4 991.9 L675.4 991.0 L675.4 990.3 L677.4 990.3 L677.4 990.3 L677.4 990.3 L681.3 990.3 L681.3 989.8 L681.3 989.4 L684.2 989.4 L684.2 988.9 L687.5 988.9 L690.5 988.9 L690.5 985.1 L690.5 981.7 L693.2 981.7 L695.3 981.7 L695.3 981.0 L695.3 980.0 L698.3 980.0 L698.3 978.9 L701.8 978.9 L705.7 978.9 L705.7 976.9 L707.9 976.9 L707.9 975.8 L710.5 975.8 L710.5 974.5 L710.5 973.2 L713.1 973.2 L714.6 973.2 L714.6 972.5 L714.6 970.7 L718.0 970.7 L718.0 970.2 L719.1 970.2 L721.3 970.2 L721.3 969.6 L721.3 968.6 L724.7 968.6 L728.2 968.6 L728.2 967.6 L728.2 967.4 L729.1 967.4 L729.1 966.5 L732.2 966.5 L735.2 966.5 L735.2 965.7 L737.1 965.7 L737.1 965.1 L739.2 965.1 L739.2 964.5 L739.2 963.9 L740.6 963.9 L743.3 963.9 L743.3 962.8 L746.4 962.8 L746.4 961.6 L746.4 960.3 L748.6 960.3 L751.6 960.3 L751.6 958.5 L751.6 957.3 L753.6 957.3 L756.0 957.3 L756.0 956.6 L756.0 955.8 L758.7 955.8 L760.9 955.8 L760.9 955.2 L760.9 954.4 L763.3 954.4 L764.6 954.4 L764.6 953.9 L767.9 953.9 L767.9 952.7 L769.4 952.7 L769.4 952.2 L773.4 952.2 L773.4 950.8 L776.5 950.8 L776.5 949.7 L778.8 949.7 L778.8 948.9 L781.3 948.9 L781.3 948.0 L781.3 947.3 L783.9 947.3 L783.9 946.9 L785.4 946.9 L785.4 946.1 L788.3 946.1 L791.8 946.1 L791.8 945.2 L791.8 944.2 L795.6 944.2 L795.6 943.2 L799.4 943.2 L802.7 943.2 L802.7 942.3 L802.7 941.7 L805.1 941.7 L805.8 941.7 L805.8 941.5" stroke="#5e3c99" stroke-width="4.6" fill="none" stroke-linejoin="round" stroke-linecap="round" clip-path="url(#clipB)"/>
<path d="M97.0 1580.4V917.3" stroke="#999" stroke-width="3"/>
<path d="M95.5 1580.4H899.3" stroke="#999" stroke-width="3"/>
<path d="M95.5 917.3H899.3V1581.9" stroke="#3c3c3c" stroke-width="2" fill="none"/>
<path d="M97.0 940.9V1555.7" stroke="#505050" stroke-width="3"/>
<path d="M191.0 1580.4H805.8" stroke="#454545" stroke-width="3"/>
<path d="M82.0 1555.7H97.0M805.8 1580.4V1595.4M82.0 1432.7H97.0M682.8 1580.4V1595.4M82.0 1309.8H97.0M559.9 1580.4V1595.4M82.0 1186.8H97.0M436.9 1580.4V1595.4M82.0 1063.9H97.0M314.0 1580.4V1595.4M82.0 940.9H97.0M191.0 1580.4V1595.4" stroke="#2a2a2a" stroke-width="2"/>
<text x="805.8" y="1630.8" text-anchor="middle" font-size="23">0.0</text>
<text transform="translate(63.7 1555.7) rotate(-90)" text-anchor="middle" font-size="23">0.0</text>
<text x="682.8" y="1630.8" text-anchor="middle" font-size="23">0.2</text>
<text transform="translate(63.7 1432.7) rotate(-90)" text-anchor="middle" font-size="23">0.2</text>
<text x="559.9" y="1630.8" text-anchor="middle" font-size="23">0.4</text>
<text transform="translate(63.7 1309.8) rotate(-90)" text-anchor="middle" font-size="23">0.4</text>
<text x="436.9" y="1630.8" text-anchor="middle" font-size="23">0.6</text>
<text transform="translate(63.7 1186.8) rotate(-90)" text-anchor="middle" font-size="23">0.6</text>
<text x="314.0" y="1630.8" text-anchor="middle" font-size="23">0.8</text>
<text transform="translate(63.7 1063.9) rotate(-90)" text-anchor="middle" font-size="23">0.8</text>
<text x="191.0" y="1630.8" text-anchor="middle" font-size="23">1.0</text>
<text transform="translate(63.7 940.9) rotate(-90)" text-anchor="middle" font-size="23">1.0</text>
<text x="498.1" y="1672.7" text-anchor="middle" font-size="23">Specificity</text>
<text transform="translate(21.9 1248.3) rotate(-90)" text-anchor="middle" font-size="23">Sensitivity</text>
<text x="498.1" y="897.4" text-anchor="middle" font-size="27.95" font-weight="bold">AUC-ROC curves from Leave-Center-Out Analysis</text>
<text x="5.4" y="856.0" font-size="44" font-weight="bold">B</text>
<rect x="546.8" y="1445" width="265.4000000000001" height="127" fill="#fff" stroke="#3a3a3a" stroke-width="2"/>
<line x1="567" y1="1477" x2="609.5" y2="1477" stroke="#fdb863" stroke-width="8" stroke-linecap="round"/>
<text x="630" y="1485.9" font-size="23">Central (0.68)</text>
<line x1="567" y1="1509" x2="609.5" y2="1509" stroke="#e66101" stroke-width="8" stroke-linecap="round"/>
<text x="630" y="1517.9" font-size="23">FedAvg (0.68)</text>
<line x1="567" y1="1541" x2="609.5" y2="1541" stroke="#5e3c99" stroke-width="8" stroke-linecap="round"/>
<text x="630" y="1549.9" font-size="23">Ensemble (0.67)</text>
</svg>
</body></html>
